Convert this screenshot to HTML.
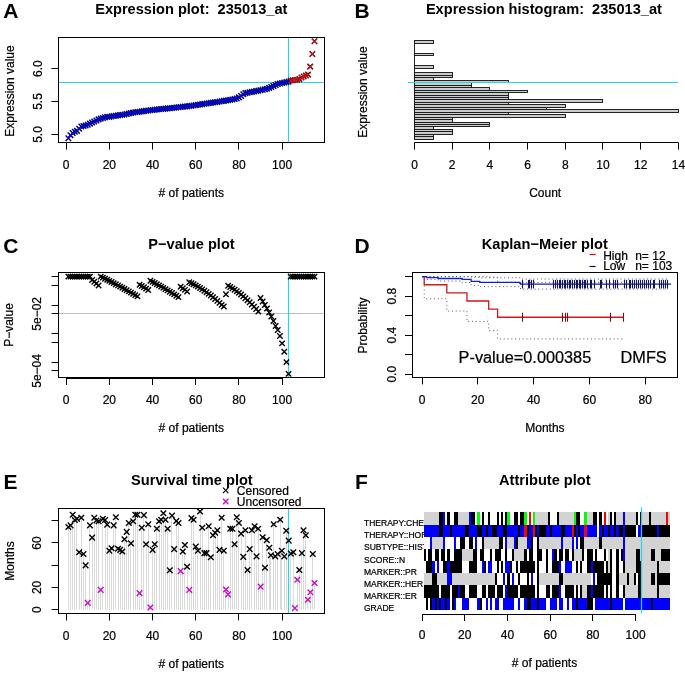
<!DOCTYPE html>
<html><head><meta charset="utf-8"><style>
html,body{margin:0;padding:0;background:#fff;}
svg{display:block;font-family:"Liberation Sans",sans-serif;will-change:transform;}
</style></head><body>
<svg width="685" height="674" viewBox="0 0 685 674">
<rect width="685" height="674" fill="#fff"/>
<text xml:space="preserve" x="3.3" y="18" font-size="21" text-anchor="start" font-weight="bold" fill="#000">A</text>
<text xml:space="preserve" x="191.3" y="13.84" font-size="14.6" text-anchor="middle" font-weight="bold" fill="#000">Expression plot:  235013_at</text>
<line x1="58.4" y1="82.5" x2="324.2" y2="82.5" stroke="#22d8ee" stroke-width="1.2" />
<line x1="288.5" y1="37.2" x2="288.5" y2="142.6" stroke="#22d8ee" stroke-width="1.2" />
<path d="M65.61 135.58L71.11 141.08M65.61 141.08L71.11 135.58" stroke="#10103a" stroke-width="1.5" fill="none"/>
<path d="M67.77 132.43L73.27 137.93M67.77 137.93L73.27 132.43" stroke="#10103a" stroke-width="1.5" fill="none"/>
<path d="M69.93 130.19L75.43 135.69M69.93 135.69L75.43 130.19" stroke="#10103a" stroke-width="1.5" fill="none"/>
<path d="M72.09 128.97L77.59 134.47M72.09 134.47L77.59 128.97" stroke="#10103a" stroke-width="1.5" fill="none"/>
<path d="M74.25 128.15L79.75 133.65M74.25 133.65L79.75 128.15" stroke="#10103a" stroke-width="1.5" fill="none"/>
<path d="M76.4 126L81.9 131.5M76.4 131.5L81.9 126" stroke="#10103a" stroke-width="1.5" fill="none"/>
<path d="M78.56 123.84L84.06 129.34M78.56 129.34L84.06 123.84" stroke="#10103a" stroke-width="1.5" fill="none"/>
<path d="M80.72 123.21L86.22 128.71M80.72 128.71L86.22 123.21" stroke="#10103a" stroke-width="1.5" fill="none"/>
<path d="M82.88 122.66L88.38 128.16M82.88 128.16L88.38 122.66" stroke="#10103a" stroke-width="1.5" fill="none"/>
<path d="M85.04 121.95L90.54 127.45M85.04 127.45L90.54 121.95" stroke="#10103a" stroke-width="1.5" fill="none"/>
<path d="M87.2 120.88L92.7 126.38M87.2 126.38L92.7 120.88" stroke="#10103a" stroke-width="1.5" fill="none"/>
<path d="M89.36 119.8L94.86 125.3M89.36 125.3L94.86 119.8" stroke="#10103a" stroke-width="1.5" fill="none"/>
<path d="M91.52 118.73L97.02 124.23M91.52 124.23L97.02 118.73" stroke="#10103a" stroke-width="1.5" fill="none"/>
<path d="M93.68 117.67L99.18 123.17M93.68 123.17L99.18 117.67" stroke="#10103a" stroke-width="1.5" fill="none"/>
<path d="M95.84 116.6L101.34 122.1M95.84 122.1L101.34 116.6" stroke="#10103a" stroke-width="1.5" fill="none"/>
<path d="M97.99 115.89L103.49 121.39M97.99 121.39L103.49 115.89" stroke="#10103a" stroke-width="1.5" fill="none"/>
<path d="M100.15 115.24L105.65 120.74M100.15 120.74L105.65 115.24" stroke="#10103a" stroke-width="1.5" fill="none"/>
<path d="M102.31 114.59L107.81 120.09M102.31 120.09L107.81 114.59" stroke="#10103a" stroke-width="1.5" fill="none"/>
<path d="M104.47 114.04L109.97 119.54M104.47 119.54L109.97 114.04" stroke="#10103a" stroke-width="1.5" fill="none"/>
<path d="M106.63 114.1L112.13 119.6M106.63 119.6L112.13 114.1" stroke="#10103a" stroke-width="1.5" fill="none"/>
<path d="M108.79 113.65L114.29 119.15M108.79 119.15L114.29 113.65" stroke="#10103a" stroke-width="1.5" fill="none"/>
<path d="M110.95 113.22L116.45 118.72M110.95 118.72L116.45 113.22" stroke="#10103a" stroke-width="1.5" fill="none"/>
<path d="M113.11 112.93L118.61 118.43M113.11 118.43L118.61 112.93" stroke="#10103a" stroke-width="1.5" fill="none"/>
<path d="M115.27 112.63L120.77 118.13M115.27 118.13L120.77 112.63" stroke="#10103a" stroke-width="1.5" fill="none"/>
<path d="M117.42 112.33L122.92 117.83M117.42 117.83L122.92 112.33" stroke="#10103a" stroke-width="1.5" fill="none"/>
<path d="M119.58 112.04L125.08 117.54M119.58 117.54L125.08 112.04" stroke="#10103a" stroke-width="1.5" fill="none"/>
<path d="M121.74 111.68L127.24 117.18M121.74 117.18L127.24 111.68" stroke="#10103a" stroke-width="1.5" fill="none"/>
<path d="M123.9 111.21L129.4 116.71M123.9 116.71L129.4 111.21" stroke="#10103a" stroke-width="1.5" fill="none"/>
<path d="M126.06 110.75L131.56 116.25M126.06 116.25L131.56 110.75" stroke="#10103a" stroke-width="1.5" fill="none"/>
<path d="M128.22 110.28L133.72 115.78M128.22 115.78L133.72 110.28" stroke="#10103a" stroke-width="1.5" fill="none"/>
<path d="M130.38 109.82L135.88 115.32M130.38 115.32L135.88 109.82" stroke="#10103a" stroke-width="1.5" fill="none"/>
<path d="M132.54 109.47L138.04 114.97M132.54 114.97L138.04 109.47" stroke="#10103a" stroke-width="1.5" fill="none"/>
<path d="M134.7 109.2L140.2 114.7M134.7 114.7L140.2 109.2" stroke="#10103a" stroke-width="1.5" fill="none"/>
<path d="M136.86 108.92L142.36 114.42M136.86 114.42L142.36 108.92" stroke="#10103a" stroke-width="1.5" fill="none"/>
<path d="M139.01 108.64L144.51 114.14M139.01 114.14L144.51 108.64" stroke="#10103a" stroke-width="1.5" fill="none"/>
<path d="M141.17 108.36L146.67 113.86M141.17 113.86L146.67 108.36" stroke="#10103a" stroke-width="1.5" fill="none"/>
<path d="M143.33 108.09L148.83 113.59M143.33 113.59L148.83 108.09" stroke="#10103a" stroke-width="1.5" fill="none"/>
<path d="M145.49 107.83L150.99 113.33M145.49 113.33L150.99 107.83" stroke="#10103a" stroke-width="1.5" fill="none"/>
<path d="M147.65 107.58L153.15 113.08M147.65 113.08L153.15 107.58" stroke="#10103a" stroke-width="1.5" fill="none"/>
<path d="M149.81 107.32L155.31 112.82M149.81 112.82L155.31 107.32" stroke="#10103a" stroke-width="1.5" fill="none"/>
<path d="M151.97 107.06L157.47 112.56M151.97 112.56L157.47 107.06" stroke="#10103a" stroke-width="1.5" fill="none"/>
<path d="M154.13 106.8L159.63 112.3M154.13 112.3L159.63 106.8" stroke="#10103a" stroke-width="1.5" fill="none"/>
<path d="M156.29 106.57L161.79 112.07M156.29 112.07L161.79 106.57" stroke="#10103a" stroke-width="1.5" fill="none"/>
<path d="M158.45 106.34L163.95 111.84M158.45 111.84L163.95 106.34" stroke="#10103a" stroke-width="1.5" fill="none"/>
<path d="M160.6 106.11L166.1 111.61M160.6 111.61L166.1 106.11" stroke="#10103a" stroke-width="1.5" fill="none"/>
<path d="M162.76 105.88L168.26 111.38M162.76 111.38L168.26 105.88" stroke="#10103a" stroke-width="1.5" fill="none"/>
<path d="M164.92 105.65L170.42 111.15M164.92 111.15L170.42 105.65" stroke="#10103a" stroke-width="1.5" fill="none"/>
<path d="M167.08 105.43L172.58 110.93M167.08 110.93L172.58 105.43" stroke="#10103a" stroke-width="1.5" fill="none"/>
<path d="M169.24 105.2L174.74 110.7M169.24 110.7L174.74 105.2" stroke="#10103a" stroke-width="1.5" fill="none"/>
<path d="M171.4 104.97L176.9 110.47M171.4 110.47L176.9 104.97" stroke="#10103a" stroke-width="1.5" fill="none"/>
<path d="M173.56 104.74L179.06 110.24M173.56 110.24L179.06 104.74" stroke="#10103a" stroke-width="1.5" fill="none"/>
<path d="M175.72 104.51L181.22 110.01M175.72 110.01L181.22 104.51" stroke="#10103a" stroke-width="1.5" fill="none"/>
<path d="M177.88 104.29L183.38 109.79M177.88 109.79L183.38 104.29" stroke="#10103a" stroke-width="1.5" fill="none"/>
<path d="M180.04 104.06L185.54 109.56M180.04 109.56L185.54 104.06" stroke="#10103a" stroke-width="1.5" fill="none"/>
<path d="M182.19 103.83L187.69 109.33M182.19 109.33L187.69 103.83" stroke="#10103a" stroke-width="1.5" fill="none"/>
<path d="M184.35 103.6L189.85 109.1M184.35 109.1L189.85 103.6" stroke="#10103a" stroke-width="1.5" fill="none"/>
<path d="M186.51 103.31L192.01 108.81M186.51 108.81L192.01 103.31" stroke="#10103a" stroke-width="1.5" fill="none"/>
<path d="M188.67 102.99L194.17 108.49M188.67 108.49L194.17 102.99" stroke="#10103a" stroke-width="1.5" fill="none"/>
<path d="M190.83 102.67L196.33 108.17M190.83 108.17L196.33 102.67" stroke="#10103a" stroke-width="1.5" fill="none"/>
<path d="M192.99 102.35L198.49 107.85M192.99 107.85L198.49 102.35" stroke="#10103a" stroke-width="1.5" fill="none"/>
<path d="M195.15 102.03L200.65 107.53M195.15 107.53L200.65 102.03" stroke="#10103a" stroke-width="1.5" fill="none"/>
<path d="M197.31 101.72L202.81 107.22M197.31 107.22L202.81 101.72" stroke="#10103a" stroke-width="1.5" fill="none"/>
<path d="M199.47 101.4L204.97 106.9M199.47 106.9L204.97 101.4" stroke="#10103a" stroke-width="1.5" fill="none"/>
<path d="M201.63 101.08L207.13 106.58M201.63 106.58L207.13 101.08" stroke="#10103a" stroke-width="1.5" fill="none"/>
<path d="M203.78 100.76L209.28 106.26M203.78 106.26L209.28 100.76" stroke="#10103a" stroke-width="1.5" fill="none"/>
<path d="M205.94 100.44L211.44 105.94M205.94 105.94L211.44 100.44" stroke="#10103a" stroke-width="1.5" fill="none"/>
<path d="M208.1 100.13L213.6 105.63M208.1 105.63L213.6 100.13" stroke="#10103a" stroke-width="1.5" fill="none"/>
<path d="M210.26 99.81L215.76 105.31M210.26 105.31L215.76 99.81" stroke="#10103a" stroke-width="1.5" fill="none"/>
<path d="M212.42 99.49L217.92 104.99M212.42 104.99L217.92 99.49" stroke="#10103a" stroke-width="1.5" fill="none"/>
<path d="M214.58 99.17L220.08 104.67M214.58 104.67L220.08 99.17" stroke="#10103a" stroke-width="1.5" fill="none"/>
<path d="M216.74 98.82L222.24 104.32M216.74 104.32L222.24 98.82" stroke="#10103a" stroke-width="1.5" fill="none"/>
<path d="M218.9 98.48L224.4 103.98M218.9 103.98L224.4 98.48" stroke="#10103a" stroke-width="1.5" fill="none"/>
<path d="M221.06 98.14L226.56 103.64M221.06 103.64L226.56 98.14" stroke="#10103a" stroke-width="1.5" fill="none"/>
<path d="M223.22 97.79L228.72 103.29M223.22 103.29L228.72 97.79" stroke="#10103a" stroke-width="1.5" fill="none"/>
<path d="M225.38 97.45L230.88 102.95M225.38 102.95L230.88 97.45" stroke="#10103a" stroke-width="1.5" fill="none"/>
<path d="M227.53 97.09L233.03 102.59M227.53 102.59L233.03 97.09" stroke="#10103a" stroke-width="1.5" fill="none"/>
<path d="M229.69 96.67L235.19 102.17M229.69 102.17L235.19 96.67" stroke="#10103a" stroke-width="1.5" fill="none"/>
<path d="M231.85 96.26L237.35 101.76M231.85 101.76L237.35 96.26" stroke="#10103a" stroke-width="1.5" fill="none"/>
<path d="M234.01 95.84L239.51 101.34M234.01 101.34L239.51 95.84" stroke="#10103a" stroke-width="1.5" fill="none"/>
<path d="M236.17 94.6L241.67 100.1M236.17 100.1L241.67 94.6" stroke="#10103a" stroke-width="1.5" fill="none"/>
<path d="M238.33 93.16L243.83 98.66M238.33 98.66L243.83 93.16" stroke="#10103a" stroke-width="1.5" fill="none"/>
<path d="M240.49 91.58L245.99 97.08M240.49 97.08L245.99 91.58" stroke="#10103a" stroke-width="1.5" fill="none"/>
<path d="M242.65 90.39L248.15 95.89M242.65 95.89L248.15 90.39" stroke="#10103a" stroke-width="1.5" fill="none"/>
<path d="M244.81 89.97L250.31 95.47M244.81 95.47L250.31 89.97" stroke="#10103a" stroke-width="1.5" fill="none"/>
<path d="M246.96 89.55L252.46 95.05M246.96 95.05L252.46 89.55" stroke="#10103a" stroke-width="1.5" fill="none"/>
<path d="M249.12 89.12L254.62 94.62M249.12 94.62L254.62 89.12" stroke="#10103a" stroke-width="1.5" fill="none"/>
<path d="M251.28 88.7L256.78 94.2M251.28 94.2L256.78 88.7" stroke="#10103a" stroke-width="1.5" fill="none"/>
<path d="M253.44 88.27L258.94 93.77M253.44 93.77L258.94 88.27" stroke="#10103a" stroke-width="1.5" fill="none"/>
<path d="M255.6 87.85L261.1 93.35M255.6 93.35L261.1 87.85" stroke="#10103a" stroke-width="1.5" fill="none"/>
<path d="M257.76 87.43L263.26 92.93M257.76 92.93L263.26 87.43" stroke="#10103a" stroke-width="1.5" fill="none"/>
<path d="M259.92 87L265.42 92.5M259.92 92.5L265.42 87" stroke="#10103a" stroke-width="1.5" fill="none"/>
<path d="M262.08 86.58L267.58 92.08M262.08 92.08L267.58 86.58" stroke="#10103a" stroke-width="1.5" fill="none"/>
<path d="M264.24 86.04L269.74 91.54M264.24 91.54L269.74 86.04" stroke="#10103a" stroke-width="1.5" fill="none"/>
<path d="M266.4 85.1L271.9 90.6M266.4 90.6L271.9 85.1" stroke="#10103a" stroke-width="1.5" fill="none"/>
<path d="M268.56 84.16L274.06 89.66M268.56 89.66L274.06 84.16" stroke="#10103a" stroke-width="1.5" fill="none"/>
<path d="M270.71 83.21L276.21 88.71M270.71 88.71L276.21 83.21" stroke="#10103a" stroke-width="1.5" fill="none"/>
<path d="M272.87 82.27L278.37 87.77M272.87 87.77L278.37 82.27" stroke="#10103a" stroke-width="1.5" fill="none"/>
<path d="M275.03 81.33L280.53 86.83M275.03 86.83L280.53 81.33" stroke="#10103a" stroke-width="1.5" fill="none"/>
<path d="M277.19 80.77L282.69 86.27M277.19 86.27L282.69 80.77" stroke="#10103a" stroke-width="1.5" fill="none"/>
<path d="M279.35 80.31L284.85 85.81M279.35 85.81L284.85 80.31" stroke="#10103a" stroke-width="1.5" fill="none"/>
<path d="M281.51 79.84L287.01 85.34M281.51 85.34L287.01 79.84" stroke="#10103a" stroke-width="1.5" fill="none"/>
<path d="M283.67 79.38L289.17 84.88M283.67 84.88L289.17 79.38" stroke="#10103a" stroke-width="1.5" fill="none"/>
<path d="M285.83 78.9L291.33 84.4M285.83 84.4L291.33 78.9" stroke="#10103a" stroke-width="1.5" fill="none"/>
<path d="M287.99 77.81L293.49 83.31M287.99 83.31L293.49 77.81" stroke="#4a1010" stroke-width="1.5" fill="none"/>
<path d="M290.14 77.5L295.64 83M290.14 83L295.64 77.5" stroke="#4a1010" stroke-width="1.5" fill="none"/>
<path d="M292.3 77.29L297.8 82.79M292.3 82.79L297.8 77.29" stroke="#4a1010" stroke-width="1.5" fill="none"/>
<path d="M294.46 77.08L299.96 82.58M294.46 82.58L299.96 77.08" stroke="#4a1010" stroke-width="1.5" fill="none"/>
<path d="M296.62 76.36L302.12 81.86M296.62 81.86L302.12 76.36" stroke="#4a1010" stroke-width="1.5" fill="none"/>
<path d="M298.78 74.74L304.28 80.24M298.78 80.24L304.28 74.74" stroke="#4a1010" stroke-width="1.5" fill="none"/>
<path d="M300.94 73.78L306.44 79.28M300.94 79.28L306.44 73.78" stroke="#4a1010" stroke-width="1.5" fill="none"/>
<path d="M303.1 72.83L308.6 78.33M303.1 78.33L308.6 72.83" stroke="#4a1010" stroke-width="1.5" fill="none"/>
<path d="M305.26 71.88L310.76 77.38M305.26 77.38L310.76 71.88" stroke="#4a1010" stroke-width="1.5" fill="none"/>
<path d="M307.42 63.85L312.92 69.35M307.42 69.35L312.92 63.85" stroke="#4a1010" stroke-width="1.5" fill="none"/>
<path d="M309.58 51.25L315.08 56.75M309.58 56.75L315.08 51.25" stroke="#4a1010" stroke-width="1.5" fill="none"/>
<path d="M311.73 38.55L317.23 44.05M311.73 44.05L317.23 38.55" stroke="#4a1010" stroke-width="1.5" fill="none"/>
<path d="M66.06 136.03L70.66 140.63M66.06 140.63L70.66 136.03" stroke="#0000f0" stroke-width="1.0" fill="none"/>
<path d="M68.22 132.88L72.82 137.48M68.22 137.48L72.82 132.88" stroke="#0000f0" stroke-width="1.0" fill="none"/>
<path d="M70.38 130.64L74.98 135.24M70.38 135.24L74.98 130.64" stroke="#0000f0" stroke-width="1.0" fill="none"/>
<path d="M72.54 129.42L77.14 134.02M72.54 134.02L77.14 129.42" stroke="#0000f0" stroke-width="1.0" fill="none"/>
<path d="M74.7 128.6L79.3 133.2M74.7 133.2L79.3 128.6" stroke="#0000f0" stroke-width="1.0" fill="none"/>
<path d="M76.85 126.45L81.45 131.05M76.85 131.05L81.45 126.45" stroke="#0000f0" stroke-width="1.0" fill="none"/>
<path d="M79.01 124.29L83.61 128.89M79.01 128.89L83.61 124.29" stroke="#0000f0" stroke-width="1.0" fill="none"/>
<path d="M81.17 123.66L85.77 128.26M81.17 128.26L85.77 123.66" stroke="#0000f0" stroke-width="1.0" fill="none"/>
<path d="M83.33 123.11L87.93 127.71M83.33 127.71L87.93 123.11" stroke="#0000f0" stroke-width="1.0" fill="none"/>
<path d="M85.49 122.41L90.09 127M85.49 127L90.09 122.41" stroke="#0000f0" stroke-width="1.0" fill="none"/>
<path d="M87.65 121.33L92.25 125.93M87.65 125.93L92.25 121.33" stroke="#0000f0" stroke-width="1.0" fill="none"/>
<path d="M89.81 120.25L94.41 124.85M89.81 124.85L94.41 120.25" stroke="#0000f0" stroke-width="1.0" fill="none"/>
<path d="M91.97 119.18L96.57 123.78M91.97 123.78L96.57 119.18" stroke="#0000f0" stroke-width="1.0" fill="none"/>
<path d="M94.13 118.12L98.73 122.72M94.13 122.72L98.73 118.12" stroke="#0000f0" stroke-width="1.0" fill="none"/>
<path d="M96.29 117.05L100.89 121.65M96.29 121.65L100.89 117.05" stroke="#0000f0" stroke-width="1.0" fill="none"/>
<path d="M98.44 116.34L103.04 120.94M98.44 120.94L103.04 116.34" stroke="#0000f0" stroke-width="1.0" fill="none"/>
<path d="M100.6 115.69L105.2 120.29M100.6 120.29L105.2 115.69" stroke="#0000f0" stroke-width="1.0" fill="none"/>
<path d="M102.76 115.04L107.36 119.64M102.76 119.64L107.36 115.04" stroke="#0000f0" stroke-width="1.0" fill="none"/>
<path d="M104.92 114.49L109.52 119.09M104.92 119.09L109.52 114.49" stroke="#0000f0" stroke-width="1.0" fill="none"/>
<path d="M107.08 114.55L111.68 119.15M107.08 119.15L111.68 114.55" stroke="#0000f0" stroke-width="1.0" fill="none"/>
<path d="M109.24 114.1L113.84 118.7M109.24 118.7L113.84 114.1" stroke="#0000f0" stroke-width="1.0" fill="none"/>
<path d="M111.4 113.67L116 118.27M111.4 118.27L116 113.67" stroke="#0000f0" stroke-width="1.0" fill="none"/>
<path d="M113.56 113.38L118.16 117.98M113.56 117.98L118.16 113.38" stroke="#0000f0" stroke-width="1.0" fill="none"/>
<path d="M115.72 113.08L120.32 117.68M115.72 117.68L120.32 113.08" stroke="#0000f0" stroke-width="1.0" fill="none"/>
<path d="M117.88 112.78L122.47 117.38M117.88 117.38L122.47 112.78" stroke="#0000f0" stroke-width="1.0" fill="none"/>
<path d="M120.03 112.49L124.63 117.09M120.03 117.09L124.63 112.49" stroke="#0000f0" stroke-width="1.0" fill="none"/>
<path d="M122.19 112.13L126.79 116.73M122.19 116.73L126.79 112.13" stroke="#0000f0" stroke-width="1.0" fill="none"/>
<path d="M124.35 111.66L128.95 116.26M124.35 116.26L128.95 111.66" stroke="#0000f0" stroke-width="1.0" fill="none"/>
<path d="M126.51 111.2L131.11 115.8M126.51 115.8L131.11 111.2" stroke="#0000f0" stroke-width="1.0" fill="none"/>
<path d="M128.67 110.73L133.27 115.33M128.67 115.33L133.27 110.73" stroke="#0000f0" stroke-width="1.0" fill="none"/>
<path d="M130.83 110.27L135.43 114.87M130.83 114.87L135.43 110.27" stroke="#0000f0" stroke-width="1.0" fill="none"/>
<path d="M132.99 109.92L137.59 114.52M132.99 114.52L137.59 109.92" stroke="#0000f0" stroke-width="1.0" fill="none"/>
<path d="M135.15 109.65L139.75 114.25M135.15 114.25L139.75 109.65" stroke="#0000f0" stroke-width="1.0" fill="none"/>
<path d="M137.31 109.37L141.91 113.97M137.31 113.97L141.91 109.37" stroke="#0000f0" stroke-width="1.0" fill="none"/>
<path d="M139.46 109.09L144.06 113.69M139.46 113.69L144.06 109.09" stroke="#0000f0" stroke-width="1.0" fill="none"/>
<path d="M141.62 108.81L146.22 113.41M141.62 113.41L146.22 108.81" stroke="#0000f0" stroke-width="1.0" fill="none"/>
<path d="M143.78 108.54L148.38 113.14M143.78 113.14L148.38 108.54" stroke="#0000f0" stroke-width="1.0" fill="none"/>
<path d="M145.94 108.28L150.54 112.88M145.94 112.88L150.54 108.28" stroke="#0000f0" stroke-width="1.0" fill="none"/>
<path d="M148.1 108.03L152.7 112.63M148.1 112.63L152.7 108.03" stroke="#0000f0" stroke-width="1.0" fill="none"/>
<path d="M150.26 107.77L154.86 112.37M150.26 112.37L154.86 107.77" stroke="#0000f0" stroke-width="1.0" fill="none"/>
<path d="M152.42 107.51L157.02 112.11M152.42 112.11L157.02 107.51" stroke="#0000f0" stroke-width="1.0" fill="none"/>
<path d="M154.58 107.25L159.18 111.85M154.58 111.85L159.18 107.25" stroke="#0000f0" stroke-width="1.0" fill="none"/>
<path d="M156.74 107.02L161.34 111.62M156.74 111.62L161.34 107.02" stroke="#0000f0" stroke-width="1.0" fill="none"/>
<path d="M158.9 106.79L163.5 111.39M158.9 111.39L163.5 106.79" stroke="#0000f0" stroke-width="1.0" fill="none"/>
<path d="M161.05 106.56L165.66 111.16M161.05 111.16L165.66 106.56" stroke="#0000f0" stroke-width="1.0" fill="none"/>
<path d="M163.21 106.33L167.81 110.93M163.21 110.93L167.81 106.33" stroke="#0000f0" stroke-width="1.0" fill="none"/>
<path d="M165.37 106.1L169.97 110.7M165.37 110.7L169.97 106.1" stroke="#0000f0" stroke-width="1.0" fill="none"/>
<path d="M167.53 105.88L172.13 110.48M167.53 110.48L172.13 105.88" stroke="#0000f0" stroke-width="1.0" fill="none"/>
<path d="M169.69 105.65L174.29 110.25M169.69 110.25L174.29 105.65" stroke="#0000f0" stroke-width="1.0" fill="none"/>
<path d="M171.85 105.42L176.45 110.02M171.85 110.02L176.45 105.42" stroke="#0000f0" stroke-width="1.0" fill="none"/>
<path d="M174.01 105.19L178.61 109.79M174.01 109.79L178.61 105.19" stroke="#0000f0" stroke-width="1.0" fill="none"/>
<path d="M176.17 104.96L180.77 109.56M176.17 109.56L180.77 104.96" stroke="#0000f0" stroke-width="1.0" fill="none"/>
<path d="M178.33 104.74L182.93 109.34M178.33 109.34L182.93 104.74" stroke="#0000f0" stroke-width="1.0" fill="none"/>
<path d="M180.49 104.51L185.09 109.11M180.49 109.11L185.09 104.51" stroke="#0000f0" stroke-width="1.0" fill="none"/>
<path d="M182.64 104.28L187.25 108.88M182.64 108.88L187.25 104.28" stroke="#0000f0" stroke-width="1.0" fill="none"/>
<path d="M184.8 104.05L189.4 108.65M184.8 108.65L189.4 104.05" stroke="#0000f0" stroke-width="1.0" fill="none"/>
<path d="M186.96 103.76L191.56 108.36M186.96 108.36L191.56 103.76" stroke="#0000f0" stroke-width="1.0" fill="none"/>
<path d="M189.12 103.44L193.72 108.04M189.12 108.04L193.72 103.44" stroke="#0000f0" stroke-width="1.0" fill="none"/>
<path d="M191.28 103.12L195.88 107.72M191.28 107.72L195.88 103.12" stroke="#0000f0" stroke-width="1.0" fill="none"/>
<path d="M193.44 102.8L198.04 107.4M193.44 107.4L198.04 102.8" stroke="#0000f0" stroke-width="1.0" fill="none"/>
<path d="M195.6 102.48L200.2 107.08M195.6 107.08L200.2 102.48" stroke="#0000f0" stroke-width="1.0" fill="none"/>
<path d="M197.76 102.17L202.36 106.77M197.76 106.77L202.36 102.17" stroke="#0000f0" stroke-width="1.0" fill="none"/>
<path d="M199.92 101.85L204.52 106.45M199.92 106.45L204.52 101.85" stroke="#0000f0" stroke-width="1.0" fill="none"/>
<path d="M202.08 101.53L206.68 106.13M202.08 106.13L206.68 101.53" stroke="#0000f0" stroke-width="1.0" fill="none"/>
<path d="M204.23 101.21L208.83 105.81M204.23 105.81L208.83 101.21" stroke="#0000f0" stroke-width="1.0" fill="none"/>
<path d="M206.39 100.89L210.99 105.49M206.39 105.49L210.99 100.89" stroke="#0000f0" stroke-width="1.0" fill="none"/>
<path d="M208.55 100.58L213.15 105.18M208.55 105.18L213.15 100.58" stroke="#0000f0" stroke-width="1.0" fill="none"/>
<path d="M210.71 100.26L215.31 104.86M210.71 104.86L215.31 100.26" stroke="#0000f0" stroke-width="1.0" fill="none"/>
<path d="M212.87 99.94L217.47 104.54M212.87 104.54L217.47 99.94" stroke="#0000f0" stroke-width="1.0" fill="none"/>
<path d="M215.03 99.62L219.63 104.22M215.03 104.22L219.63 99.62" stroke="#0000f0" stroke-width="1.0" fill="none"/>
<path d="M217.19 99.27L221.79 103.87M217.19 103.87L221.79 99.27" stroke="#0000f0" stroke-width="1.0" fill="none"/>
<path d="M219.35 98.93L223.95 103.53M219.35 103.53L223.95 98.93" stroke="#0000f0" stroke-width="1.0" fill="none"/>
<path d="M221.51 98.59L226.11 103.19M221.51 103.19L226.11 98.59" stroke="#0000f0" stroke-width="1.0" fill="none"/>
<path d="M223.67 98.24L228.27 102.84M223.67 102.84L228.27 98.24" stroke="#0000f0" stroke-width="1.0" fill="none"/>
<path d="M225.82 97.9L230.43 102.5M225.82 102.5L230.43 97.9" stroke="#0000f0" stroke-width="1.0" fill="none"/>
<path d="M227.98 97.54L232.58 102.14M227.98 102.14L232.58 97.54" stroke="#0000f0" stroke-width="1.0" fill="none"/>
<path d="M230.14 97.12L234.74 101.72M230.14 101.72L234.74 97.12" stroke="#0000f0" stroke-width="1.0" fill="none"/>
<path d="M232.3 96.71L236.9 101.31M232.3 101.31L236.9 96.71" stroke="#0000f0" stroke-width="1.0" fill="none"/>
<path d="M234.46 96.29L239.06 100.89M234.46 100.89L239.06 96.29" stroke="#0000f0" stroke-width="1.0" fill="none"/>
<path d="M236.62 95.05L241.22 99.65M236.62 99.65L241.22 95.05" stroke="#0000f0" stroke-width="1.0" fill="none"/>
<path d="M238.78 93.61L243.38 98.21M238.78 98.21L243.38 93.61" stroke="#0000f0" stroke-width="1.0" fill="none"/>
<path d="M240.94 92.03L245.54 96.63M240.94 96.63L245.54 92.03" stroke="#0000f0" stroke-width="1.0" fill="none"/>
<path d="M243.1 90.84L247.7 95.44M243.1 95.44L247.7 90.84" stroke="#0000f0" stroke-width="1.0" fill="none"/>
<path d="M245.26 90.42L249.86 95.02M245.26 95.02L249.86 90.42" stroke="#0000f0" stroke-width="1.0" fill="none"/>
<path d="M247.41 90L252.01 94.6M247.41 94.6L252.01 90" stroke="#0000f0" stroke-width="1.0" fill="none"/>
<path d="M249.57 89.57L254.17 94.17M249.57 94.17L254.17 89.57" stroke="#0000f0" stroke-width="1.0" fill="none"/>
<path d="M251.73 89.15L256.33 93.75M251.73 93.75L256.33 89.15" stroke="#0000f0" stroke-width="1.0" fill="none"/>
<path d="M253.89 88.72L258.49 93.32M253.89 93.32L258.49 88.72" stroke="#0000f0" stroke-width="1.0" fill="none"/>
<path d="M256.05 88.3L260.65 92.9M256.05 92.9L260.65 88.3" stroke="#0000f0" stroke-width="1.0" fill="none"/>
<path d="M258.21 87.88L262.81 92.48M258.21 92.48L262.81 87.88" stroke="#0000f0" stroke-width="1.0" fill="none"/>
<path d="M260.37 87.45L264.97 92.05M260.37 92.05L264.97 87.45" stroke="#0000f0" stroke-width="1.0" fill="none"/>
<path d="M262.53 87.03L267.13 91.63M262.53 91.63L267.13 87.03" stroke="#0000f0" stroke-width="1.0" fill="none"/>
<path d="M264.69 86.49L269.29 91.09M264.69 91.09L269.29 86.49" stroke="#0000f0" stroke-width="1.0" fill="none"/>
<path d="M266.85 85.55L271.45 90.15M266.85 90.15L271.45 85.55" stroke="#0000f0" stroke-width="1.0" fill="none"/>
<path d="M269 84.61L273.61 89.21M269 89.21L273.61 84.61" stroke="#0000f0" stroke-width="1.0" fill="none"/>
<path d="M271.16 83.66L275.76 88.26M271.16 88.26L275.76 83.66" stroke="#0000f0" stroke-width="1.0" fill="none"/>
<path d="M273.32 82.72L277.92 87.32M273.32 87.32L277.92 82.72" stroke="#0000f0" stroke-width="1.0" fill="none"/>
<path d="M275.48 81.78L280.08 86.38M275.48 86.38L280.08 81.78" stroke="#0000f0" stroke-width="1.0" fill="none"/>
<path d="M277.64 81.22L282.24 85.82M277.64 85.82L282.24 81.22" stroke="#0000f0" stroke-width="1.0" fill="none"/>
<path d="M279.8 80.76L284.4 85.36M279.8 85.36L284.4 80.76" stroke="#0000f0" stroke-width="1.0" fill="none"/>
<path d="M281.96 80.29L286.56 84.89M281.96 84.89L286.56 80.29" stroke="#0000f0" stroke-width="1.0" fill="none"/>
<path d="M284.12 79.83L288.72 84.43M284.12 84.43L288.72 79.83" stroke="#0000f0" stroke-width="1.0" fill="none"/>
<path d="M286.28 79.35L290.88 83.95M286.28 83.95L290.88 79.35" stroke="#0000f0" stroke-width="1.0" fill="none"/>
<path d="M288.44 78.26L293.04 82.86M288.44 82.86L293.04 78.26" stroke="#e81010" stroke-width="1.0" fill="none"/>
<path d="M290.59 77.95L295.19 82.55M290.59 82.55L295.19 77.95" stroke="#e81010" stroke-width="1.0" fill="none"/>
<path d="M292.75 77.74L297.35 82.34M292.75 82.34L297.35 77.74" stroke="#e81010" stroke-width="1.0" fill="none"/>
<path d="M294.91 77.53L299.51 82.13M294.91 82.13L299.51 77.53" stroke="#e81010" stroke-width="1.0" fill="none"/>
<path d="M297.07 76.81L301.67 81.41M297.07 81.41L301.67 76.81" stroke="#e81010" stroke-width="1.0" fill="none"/>
<path d="M299.23 75.19L303.83 79.79M299.23 79.79L303.83 75.19" stroke="#e81010" stroke-width="1.0" fill="none"/>
<path d="M301.39 74.23L305.99 78.83M301.39 78.83L305.99 74.23" stroke="#e81010" stroke-width="1.0" fill="none"/>
<path d="M303.55 73.28L308.15 77.88M303.55 77.88L308.15 73.28" stroke="#e81010" stroke-width="1.0" fill="none"/>
<path d="M305.71 72.33L310.31 76.93M305.71 76.93L310.31 72.33" stroke="#e81010" stroke-width="1.0" fill="none"/>
<path d="M307.87 64.3L312.47 68.9M307.87 68.9L312.47 64.3" stroke="#e81010" stroke-width="1.0" fill="none"/>
<path d="M310.03 51.7L314.63 56.3M310.03 56.3L314.63 51.7" stroke="#e81010" stroke-width="1.0" fill="none"/>
<path d="M312.18 39L316.78 43.6M312.18 43.6L316.78 39" stroke="#e81010" stroke-width="1.0" fill="none"/>
<rect x="58.5" y="37.5" width="266" height="105" fill="none" stroke="#000" stroke-width="1"/>
<line x1="51.4" y1="134.5" x2="58.4" y2="134.5" stroke="#000" stroke-width="1" />
<text xml:space="preserve" x="42.2" y="134.5" font-size="12" text-anchor="middle" font-weight="normal" fill="#000" stroke="#000" stroke-width="0.22" transform="rotate(-90 42.2 134.5)">5.0</text>
<line x1="51.4" y1="101.5" x2="58.4" y2="101.5" stroke="#000" stroke-width="1" />
<text xml:space="preserve" x="42.2" y="101.5" font-size="12" text-anchor="middle" font-weight="normal" fill="#000" stroke="#000" stroke-width="0.22" transform="rotate(-90 42.2 101.5)">5.5</text>
<line x1="51.4" y1="68.5" x2="58.4" y2="68.5" stroke="#000" stroke-width="1" />
<text xml:space="preserve" x="42.2" y="68.6" font-size="12" text-anchor="middle" font-weight="normal" fill="#000" stroke="#000" stroke-width="0.22" transform="rotate(-90 42.2 68.6)">6.0</text>
<text xml:space="preserve" x="13.5" y="91" font-size="12" text-anchor="middle" font-weight="normal" fill="#000" stroke="#000" stroke-width="0.22" transform="rotate(-90 13.5 91)">Expression value</text>
<line x1="66.2" y1="142.5" x2="282.1" y2="142.5" stroke="#000" stroke-width="1" />
<line x1="66.5" y1="142.6" x2="66.5" y2="149.6" stroke="#000" stroke-width="1" />
<text xml:space="preserve" x="66.2" y="169" font-size="12" text-anchor="middle" font-weight="normal" fill="#000" stroke="#000" stroke-width="0.22">0</text>
<line x1="109.5" y1="142.6" x2="109.5" y2="149.6" stroke="#000" stroke-width="1" />
<text xml:space="preserve" x="109.38" y="169" font-size="12" text-anchor="middle" font-weight="normal" fill="#000" stroke="#000" stroke-width="0.22">20</text>
<line x1="152.5" y1="142.6" x2="152.5" y2="149.6" stroke="#000" stroke-width="1" />
<text xml:space="preserve" x="152.56" y="169" font-size="12" text-anchor="middle" font-weight="normal" fill="#000" stroke="#000" stroke-width="0.22">40</text>
<line x1="195.5" y1="142.6" x2="195.5" y2="149.6" stroke="#000" stroke-width="1" />
<text xml:space="preserve" x="195.74" y="169" font-size="12" text-anchor="middle" font-weight="normal" fill="#000" stroke="#000" stroke-width="0.22">60</text>
<line x1="238.5" y1="142.6" x2="238.5" y2="149.6" stroke="#000" stroke-width="1" />
<text xml:space="preserve" x="238.92" y="169" font-size="12" text-anchor="middle" font-weight="normal" fill="#000" stroke="#000" stroke-width="0.22">80</text>
<line x1="282.5" y1="142.6" x2="282.5" y2="149.6" stroke="#000" stroke-width="1" />
<text xml:space="preserve" x="282.1" y="169" font-size="12" text-anchor="middle" font-weight="normal" fill="#000" stroke="#000" stroke-width="0.22">100</text>
<text xml:space="preserve" x="191.3" y="196.8" font-size="12" text-anchor="middle" font-weight="normal" fill="#000" stroke="#000" stroke-width="0.22"># of patients</text>
<text xml:space="preserve" x="354.6" y="18" font-size="21" text-anchor="start" font-weight="bold" fill="#000">B</text>
<text xml:space="preserve" x="543.9" y="13.84" font-size="14.6" text-anchor="middle" font-weight="bold" fill="#000">Expression histogram:  235013_at</text>
<rect x="414.5" y="40.5" width="19" height="3" fill="#cbcbcb" stroke="#1a1a1a" stroke-width="0.95"/>
<rect x="414.5" y="53.5" width="19" height="2" fill="#cbcbcb" stroke="#1a1a1a" stroke-width="0.95"/>
<rect x="414.5" y="65.5" width="19" height="3" fill="#cbcbcb" stroke="#1a1a1a" stroke-width="0.95"/>
<rect x="414.5" y="72.5" width="38" height="3" fill="#cbcbcb" stroke="#1a1a1a" stroke-width="0.95"/>
<rect x="414.5" y="75.5" width="38" height="2" fill="#cbcbcb" stroke="#1a1a1a" stroke-width="0.95"/>
<rect x="414.5" y="77.5" width="19" height="3" fill="#cbcbcb" stroke="#1a1a1a" stroke-width="0.95"/>
<rect x="414.5" y="80.5" width="94" height="2" fill="#cbcbcb" stroke="#1a1a1a" stroke-width="0.95"/>
<rect x="414.5" y="82.5" width="57" height="3" fill="#cbcbcb" stroke="#1a1a1a" stroke-width="0.95"/>
<rect x="414.5" y="85.5" width="57" height="2" fill="#cbcbcb" stroke="#1a1a1a" stroke-width="0.95"/>
<rect x="414.5" y="87.5" width="75" height="3" fill="#cbcbcb" stroke="#1a1a1a" stroke-width="0.95"/>
<rect x="414.5" y="90.5" width="113" height="2" fill="#cbcbcb" stroke="#1a1a1a" stroke-width="0.95"/>
<rect x="414.5" y="92.5" width="94" height="3" fill="#cbcbcb" stroke="#1a1a1a" stroke-width="0.95"/>
<rect x="414.5" y="95.5" width="94" height="2" fill="#cbcbcb" stroke="#1a1a1a" stroke-width="0.95"/>
<rect x="414.5" y="97.5" width="94" height="2" fill="#cbcbcb" stroke="#1a1a1a" stroke-width="0.95"/>
<rect x="414.5" y="99.5" width="188" height="3" fill="#cbcbcb" stroke="#1a1a1a" stroke-width="0.95"/>
<rect x="414.5" y="102.5" width="94" height="2" fill="#cbcbcb" stroke="#1a1a1a" stroke-width="0.95"/>
<rect x="414.5" y="104.5" width="151" height="3" fill="#cbcbcb" stroke="#1a1a1a" stroke-width="0.95"/>
<rect x="414.5" y="107.5" width="132" height="2" fill="#cbcbcb" stroke="#1a1a1a" stroke-width="0.95"/>
<rect x="414.5" y="109.5" width="264" height="3" fill="#cbcbcb" stroke="#1a1a1a" stroke-width="0.95"/>
<rect x="414.5" y="112.5" width="94" height="2" fill="#cbcbcb" stroke="#1a1a1a" stroke-width="0.95"/>
<rect x="414.5" y="114.5" width="151" height="3" fill="#cbcbcb" stroke="#1a1a1a" stroke-width="0.95"/>
<rect x="414.5" y="117.5" width="38" height="2" fill="#cbcbcb" stroke="#1a1a1a" stroke-width="0.95"/>
<rect x="414.5" y="119.5" width="38" height="3" fill="#cbcbcb" stroke="#1a1a1a" stroke-width="0.95"/>
<rect x="414.5" y="122.5" width="75" height="2" fill="#cbcbcb" stroke="#1a1a1a" stroke-width="0.95"/>
<rect x="414.5" y="124.5" width="75" height="2" fill="#cbcbcb" stroke="#1a1a1a" stroke-width="0.95"/>
<rect x="414.5" y="126.5" width="19" height="3" fill="#cbcbcb" stroke="#1a1a1a" stroke-width="0.95"/>
<rect x="414.5" y="129.5" width="38" height="2" fill="#cbcbcb" stroke="#1a1a1a" stroke-width="0.95"/>
<rect x="414.5" y="131.5" width="38" height="3" fill="#cbcbcb" stroke="#1a1a1a" stroke-width="0.95"/>
<rect x="414.5" y="134.5" width="19" height="2" fill="#cbcbcb" stroke="#1a1a1a" stroke-width="0.95"/>
<rect x="414.5" y="136.5" width="19" height="3" fill="#cbcbcb" stroke="#1a1a1a" stroke-width="0.95"/>
<line x1="414.5" y1="41" x2="414.5" y2="139.2" stroke="#1a1a1a" stroke-width="0.95" />
<line x1="408" y1="82.5" x2="678" y2="82.5" stroke="#22d8ee" stroke-width="1.2" />
<line x1="414.5" y1="142.5" x2="678.4" y2="142.5" stroke="#000" stroke-width="1" />
<line x1="414.5" y1="142.6" x2="414.5" y2="149.6" stroke="#000" stroke-width="1" />
<text xml:space="preserve" x="414.5" y="169" font-size="12" text-anchor="middle" font-weight="normal" fill="#000" stroke="#000" stroke-width="0.22">0</text>
<line x1="452.5" y1="142.6" x2="452.5" y2="149.6" stroke="#000" stroke-width="1" />
<text xml:space="preserve" x="452.2" y="169" font-size="12" text-anchor="middle" font-weight="normal" fill="#000" stroke="#000" stroke-width="0.22">2</text>
<line x1="489.5" y1="142.6" x2="489.5" y2="149.6" stroke="#000" stroke-width="1" />
<text xml:space="preserve" x="489.9" y="169" font-size="12" text-anchor="middle" font-weight="normal" fill="#000" stroke="#000" stroke-width="0.22">4</text>
<line x1="527.5" y1="142.6" x2="527.5" y2="149.6" stroke="#000" stroke-width="1" />
<text xml:space="preserve" x="527.6" y="169" font-size="12" text-anchor="middle" font-weight="normal" fill="#000" stroke="#000" stroke-width="0.22">6</text>
<line x1="565.5" y1="142.6" x2="565.5" y2="149.6" stroke="#000" stroke-width="1" />
<text xml:space="preserve" x="565.3" y="169" font-size="12" text-anchor="middle" font-weight="normal" fill="#000" stroke="#000" stroke-width="0.22">8</text>
<line x1="602.5" y1="142.6" x2="602.5" y2="149.6" stroke="#000" stroke-width="1" />
<text xml:space="preserve" x="603" y="169" font-size="12" text-anchor="middle" font-weight="normal" fill="#000" stroke="#000" stroke-width="0.22">10</text>
<line x1="640.5" y1="142.6" x2="640.5" y2="149.6" stroke="#000" stroke-width="1" />
<text xml:space="preserve" x="640.7" y="169" font-size="12" text-anchor="middle" font-weight="normal" fill="#000" stroke="#000" stroke-width="0.22">12</text>
<line x1="678.5" y1="142.6" x2="678.5" y2="149.6" stroke="#000" stroke-width="1" />
<text xml:space="preserve" x="678.4" y="169" font-size="12" text-anchor="middle" font-weight="normal" fill="#000" stroke="#000" stroke-width="0.22">14</text>
<text xml:space="preserve" x="366.9" y="92" font-size="12" text-anchor="middle" font-weight="normal" fill="#000" stroke="#000" stroke-width="0.22" transform="rotate(-90 366.9 92)">Expression value</text>
<text xml:space="preserve" x="545.2" y="196.8" font-size="12" text-anchor="middle" font-weight="normal" fill="#000" stroke="#000" stroke-width="0.22">Count</text>
<text xml:space="preserve" x="3.2" y="253.4" font-size="21" text-anchor="start" font-weight="bold" fill="#000">C</text>
<text xml:space="preserve" x="191.5" y="249.24" font-size="14.6" text-anchor="middle" font-weight="bold" fill="#000">P−value plot</text>
<line x1="58.6" y1="313.5" x2="324.4" y2="313.5" stroke="#bdbdbd" stroke-width="1.2" />
<line x1="288.5" y1="272.6" x2="288.5" y2="377.4" stroke="#22d8ee" stroke-width="1.2" />
<path d="M65.66 273.9L71.06 279.3M65.66 279.3L71.06 273.9" stroke="#000" stroke-width="1.4" fill="none"/>
<path d="M67.82 273.9L73.22 279.3M67.82 279.3L73.22 273.9" stroke="#000" stroke-width="1.4" fill="none"/>
<path d="M69.98 273.9L75.38 279.3M69.98 279.3L75.38 273.9" stroke="#000" stroke-width="1.4" fill="none"/>
<path d="M72.14 273.9L77.54 279.3M72.14 279.3L77.54 273.9" stroke="#000" stroke-width="1.4" fill="none"/>
<path d="M74.3 273.9L79.7 279.3M74.3 279.3L79.7 273.9" stroke="#000" stroke-width="1.4" fill="none"/>
<path d="M76.45 273.9L81.85 279.3M76.45 279.3L81.85 273.9" stroke="#000" stroke-width="1.4" fill="none"/>
<path d="M78.61 273.9L84.01 279.3M78.61 279.3L84.01 273.9" stroke="#000" stroke-width="1.4" fill="none"/>
<path d="M80.77 273.9L86.17 279.3M80.77 279.3L86.17 273.9" stroke="#000" stroke-width="1.4" fill="none"/>
<path d="M82.93 273.9L88.33 279.3M82.93 279.3L88.33 273.9" stroke="#000" stroke-width="1.4" fill="none"/>
<path d="M85.09 273.9L90.49 279.3M85.09 279.3L90.49 273.9" stroke="#000" stroke-width="1.4" fill="none"/>
<path d="M87.25 273.9L92.65 279.3M87.25 279.3L92.65 273.9" stroke="#000" stroke-width="1.4" fill="none"/>
<path d="M89.41 277.3L94.81 282.7M89.41 282.7L94.81 277.3" stroke="#000" stroke-width="1.4" fill="none"/>
<path d="M91.57 279.01L96.97 284.41M91.57 284.41L96.97 279.01" stroke="#000" stroke-width="1.4" fill="none"/>
<path d="M93.73 280.84L99.13 286.24M93.73 286.24L99.13 280.84" stroke="#000" stroke-width="1.4" fill="none"/>
<path d="M95.89 282.8L101.29 288.2M95.89 288.2L101.29 282.8" stroke="#000" stroke-width="1.4" fill="none"/>
<path d="M98.04 273.9L103.44 279.3M98.04 279.3L103.44 273.9" stroke="#000" stroke-width="1.4" fill="none"/>
<path d="M100.2 274.96L105.6 280.36M100.2 280.36L105.6 274.96" stroke="#000" stroke-width="1.4" fill="none"/>
<path d="M102.36 276.02L107.76 281.42M102.36 281.42L107.76 276.02" stroke="#000" stroke-width="1.4" fill="none"/>
<path d="M104.52 277.11L109.92 282.51M104.52 282.51L109.92 277.11" stroke="#000" stroke-width="1.4" fill="none"/>
<path d="M106.68 278.2L112.08 283.6M106.68 283.6L112.08 278.2" stroke="#000" stroke-width="1.4" fill="none"/>
<path d="M108.84 279.31L114.24 284.71M108.84 284.71L114.24 279.31" stroke="#000" stroke-width="1.4" fill="none"/>
<path d="M111 280.44L116.4 285.84M111 285.84L116.4 280.44" stroke="#000" stroke-width="1.4" fill="none"/>
<path d="M113.16 281.57L118.56 286.97M113.16 286.97L118.56 281.57" stroke="#000" stroke-width="1.4" fill="none"/>
<path d="M115.32 282.72L120.72 288.12M115.32 288.12L120.72 282.72" stroke="#000" stroke-width="1.4" fill="none"/>
<path d="M117.47 283.89L122.88 289.29M117.47 289.29L122.88 283.89" stroke="#000" stroke-width="1.4" fill="none"/>
<path d="M119.63 285.07L125.03 290.47M119.63 290.47L125.03 285.07" stroke="#000" stroke-width="1.4" fill="none"/>
<path d="M121.79 286.26L127.19 291.66M121.79 291.66L127.19 286.26" stroke="#000" stroke-width="1.4" fill="none"/>
<path d="M123.95 287.47L129.35 292.87M123.95 292.87L129.35 287.47" stroke="#000" stroke-width="1.4" fill="none"/>
<path d="M126.11 288.68L131.51 294.08M126.11 294.08L131.51 288.68" stroke="#000" stroke-width="1.4" fill="none"/>
<path d="M128.27 289.92L133.67 295.32M128.27 295.32L133.67 289.92" stroke="#000" stroke-width="1.4" fill="none"/>
<path d="M130.43 291.17L135.83 296.57M130.43 296.57L135.83 291.17" stroke="#000" stroke-width="1.4" fill="none"/>
<path d="M132.59 292.43L137.99 297.83M132.59 297.83L137.99 292.43" stroke="#000" stroke-width="1.4" fill="none"/>
<path d="M134.75 293.7L140.15 299.1M134.75 299.1L140.15 293.7" stroke="#000" stroke-width="1.4" fill="none"/>
<path d="M136.91 282.1L142.31 287.5M136.91 287.5L142.31 282.1" stroke="#000" stroke-width="1.4" fill="none"/>
<path d="M139.06 283.3L144.46 288.7M139.06 288.7L144.46 283.3" stroke="#000" stroke-width="1.4" fill="none"/>
<path d="M141.22 284.57L146.62 289.97M141.22 289.97L146.62 284.57" stroke="#000" stroke-width="1.4" fill="none"/>
<path d="M143.38 285.9L148.78 291.3M143.38 291.3L148.78 285.9" stroke="#000" stroke-width="1.4" fill="none"/>
<path d="M145.54 287.3L150.94 292.7M145.54 292.7L150.94 287.3" stroke="#000" stroke-width="1.4" fill="none"/>
<path d="M147.7 278L153.1 283.4M147.7 283.4L153.1 278" stroke="#000" stroke-width="1.4" fill="none"/>
<path d="M149.86 279.15L155.26 284.55M149.86 284.55L155.26 279.15" stroke="#000" stroke-width="1.4" fill="none"/>
<path d="M152.02 280.31L157.42 285.71M152.02 285.71L157.42 280.31" stroke="#000" stroke-width="1.4" fill="none"/>
<path d="M154.18 281.49L159.58 286.89M154.18 286.89L159.58 281.49" stroke="#000" stroke-width="1.4" fill="none"/>
<path d="M156.34 282.7L161.74 288.1M156.34 288.1L161.74 282.7" stroke="#000" stroke-width="1.4" fill="none"/>
<path d="M158.5 283.92L163.9 289.32M158.5 289.32L163.9 283.92" stroke="#000" stroke-width="1.4" fill="none"/>
<path d="M160.66 285.16L166.05 290.56M160.66 290.56L166.05 285.16" stroke="#000" stroke-width="1.4" fill="none"/>
<path d="M162.81 286.42L168.21 291.82M162.81 291.82L168.21 286.42" stroke="#000" stroke-width="1.4" fill="none"/>
<path d="M164.97 287.7L170.37 293.1M164.97 293.1L170.37 287.7" stroke="#000" stroke-width="1.4" fill="none"/>
<path d="M167.13 289L172.53 294.4M167.13 294.4L172.53 289" stroke="#000" stroke-width="1.4" fill="none"/>
<path d="M169.29 290.32L174.69 295.72M169.29 295.72L174.69 290.32" stroke="#000" stroke-width="1.4" fill="none"/>
<path d="M171.45 291.66L176.85 297.06M171.45 297.06L176.85 291.66" stroke="#000" stroke-width="1.4" fill="none"/>
<path d="M173.61 293.02L179.01 298.42M173.61 298.42L179.01 293.02" stroke="#000" stroke-width="1.4" fill="none"/>
<path d="M175.77 294.4L181.17 299.8M175.77 299.8L181.17 294.4" stroke="#000" stroke-width="1.4" fill="none"/>
<path d="M177.93 284.1L183.33 289.5M177.93 289.5L183.33 284.1" stroke="#000" stroke-width="1.4" fill="none"/>
<path d="M180.09 285.56L185.49 290.96M180.09 290.96L185.49 285.56" stroke="#000" stroke-width="1.4" fill="none"/>
<path d="M182.25 287.13L187.64 292.53M182.25 292.53L187.64 287.13" stroke="#000" stroke-width="1.4" fill="none"/>
<path d="M184.4 288.8L189.8 294.2M184.4 294.2L189.8 288.8" stroke="#000" stroke-width="1.4" fill="none"/>
<path d="M186.56 279.5L191.96 284.9M186.56 284.9L191.96 279.5" stroke="#000" stroke-width="1.4" fill="none"/>
<path d="M188.72 280.5L194.12 285.9M188.72 285.9L194.12 280.5" stroke="#000" stroke-width="1.4" fill="none"/>
<path d="M190.88 281.58L196.28 286.98M190.88 286.98L196.28 281.58" stroke="#000" stroke-width="1.4" fill="none"/>
<path d="M193.04 282.73L198.44 288.13M193.04 288.13L198.44 282.73" stroke="#000" stroke-width="1.4" fill="none"/>
<path d="M195.2 283.96L200.6 289.36M195.2 289.36L200.6 283.96" stroke="#000" stroke-width="1.4" fill="none"/>
<path d="M197.36 285.25L202.76 290.65M197.36 290.65L202.76 285.25" stroke="#000" stroke-width="1.4" fill="none"/>
<path d="M199.52 286.62L204.92 292.02M199.52 292.02L204.92 286.62" stroke="#000" stroke-width="1.4" fill="none"/>
<path d="M201.68 288.06L207.08 293.46M201.68 293.46L207.08 288.06" stroke="#000" stroke-width="1.4" fill="none"/>
<path d="M203.83 289.57L209.23 294.97M203.83 294.97L209.23 289.57" stroke="#000" stroke-width="1.4" fill="none"/>
<path d="M205.99 291.16L211.39 296.56M205.99 296.56L211.39 291.16" stroke="#000" stroke-width="1.4" fill="none"/>
<path d="M208.15 292.82L213.55 298.22M208.15 298.22L213.55 292.82" stroke="#000" stroke-width="1.4" fill="none"/>
<path d="M210.31 294.55L215.71 299.95M210.31 299.95L215.71 294.55" stroke="#000" stroke-width="1.4" fill="none"/>
<path d="M212.47 296.35L217.87 301.75M212.47 301.75L217.87 296.35" stroke="#000" stroke-width="1.4" fill="none"/>
<path d="M214.63 298.23L220.03 303.63M214.63 303.63L220.03 298.23" stroke="#000" stroke-width="1.4" fill="none"/>
<path d="M216.79 300.18L222.19 305.58M216.79 305.58L222.19 300.18" stroke="#000" stroke-width="1.4" fill="none"/>
<path d="M218.95 302.2L224.35 307.6M218.95 307.6L224.35 302.2" stroke="#000" stroke-width="1.4" fill="none"/>
<path d="M221.11 303.8L226.51 309.2M221.11 309.2L226.51 303.8" stroke="#000" stroke-width="1.4" fill="none"/>
<path d="M223.27 291.6L228.67 297M223.27 297L228.67 291.6" stroke="#000" stroke-width="1.4" fill="none"/>
<path d="M225.43 283.1L230.82 288.5M225.43 288.5L230.82 283.1" stroke="#000" stroke-width="1.4" fill="none"/>
<path d="M227.58 284.32L232.98 289.72M227.58 289.72L232.98 284.32" stroke="#000" stroke-width="1.4" fill="none"/>
<path d="M229.74 285.64L235.14 291.04M229.74 291.04L235.14 285.64" stroke="#000" stroke-width="1.4" fill="none"/>
<path d="M231.9 287.05L237.3 292.45M231.9 292.45L237.3 287.05" stroke="#000" stroke-width="1.4" fill="none"/>
<path d="M234.06 288.55L239.46 293.95M234.06 293.95L239.46 288.55" stroke="#000" stroke-width="1.4" fill="none"/>
<path d="M236.22 290.15L241.62 295.55M236.22 295.55L241.62 290.15" stroke="#000" stroke-width="1.4" fill="none"/>
<path d="M238.38 291.85L243.78 297.25M238.38 297.25L243.78 291.85" stroke="#000" stroke-width="1.4" fill="none"/>
<path d="M240.54 293.64L245.94 299.04M240.54 299.04L245.94 293.64" stroke="#000" stroke-width="1.4" fill="none"/>
<path d="M242.7 295.52L248.1 300.92M242.7 300.92L248.1 295.52" stroke="#000" stroke-width="1.4" fill="none"/>
<path d="M244.86 297.5L250.26 302.9M244.86 302.9L250.26 297.5" stroke="#000" stroke-width="1.4" fill="none"/>
<path d="M247.01 299.57L252.41 304.97M247.01 304.97L252.41 299.57" stroke="#000" stroke-width="1.4" fill="none"/>
<path d="M249.17 301.74L254.57 307.14M249.17 307.14L254.57 301.74" stroke="#000" stroke-width="1.4" fill="none"/>
<path d="M251.33 304L256.73 309.4M251.33 309.4L256.73 304" stroke="#000" stroke-width="1.4" fill="none"/>
<path d="M253.49 306.35L258.89 311.75M253.49 311.75L258.89 306.35" stroke="#000" stroke-width="1.4" fill="none"/>
<path d="M255.65 308.8L261.05 314.2M255.65 314.2L261.05 308.8" stroke="#000" stroke-width="1.4" fill="none"/>
<path d="M257.81 295.3L263.21 300.7M257.81 300.7L263.21 295.3" stroke="#000" stroke-width="1.4" fill="none"/>
<path d="M259.97 298.8L265.37 304.2M259.97 304.2L265.37 298.8" stroke="#000" stroke-width="1.4" fill="none"/>
<path d="M262.13 302.3L267.53 307.7M262.13 307.7L267.53 302.3" stroke="#000" stroke-width="1.4" fill="none"/>
<path d="M264.29 305.8L269.69 311.2M264.29 311.2L269.69 305.8" stroke="#000" stroke-width="1.4" fill="none"/>
<path d="M266.45 309.8L271.85 315.2M266.45 315.2L271.85 309.8" stroke="#000" stroke-width="1.4" fill="none"/>
<path d="M268.61 313.8L274 319.2M268.61 319.2L274 313.8" stroke="#000" stroke-width="1.4" fill="none"/>
<path d="M270.76 318.3L276.16 323.7M270.76 323.7L276.16 318.3" stroke="#000" stroke-width="1.4" fill="none"/>
<path d="M272.92 323.3L278.32 328.7M272.92 328.7L278.32 323.3" stroke="#000" stroke-width="1.4" fill="none"/>
<path d="M275.08 327.3L280.48 332.7M275.08 332.7L280.48 327.3" stroke="#000" stroke-width="1.4" fill="none"/>
<path d="M277.24 333.3L282.64 338.7M277.24 338.7L282.64 333.3" stroke="#000" stroke-width="1.4" fill="none"/>
<path d="M279.4 340.7L284.8 346.1M279.4 346.1L284.8 340.7" stroke="#000" stroke-width="1.4" fill="none"/>
<path d="M281.56 349L286.96 354.4M281.56 354.4L286.96 349" stroke="#000" stroke-width="1.4" fill="none"/>
<path d="M283.72 359.4L289.12 364.8M283.72 364.8L289.12 359.4" stroke="#000" stroke-width="1.4" fill="none"/>
<path d="M285.88 371.2L291.28 376.6M285.88 376.6L291.28 371.2" stroke="#000" stroke-width="1.4" fill="none"/>
<path d="M288.04 273.9L293.44 279.3M288.04 279.3L293.44 273.9" stroke="#000" stroke-width="1.4" fill="none"/>
<path d="M290.19 273.9L295.59 279.3M290.19 279.3L295.59 273.9" stroke="#000" stroke-width="1.4" fill="none"/>
<path d="M292.35 273.9L297.75 279.3M292.35 279.3L297.75 273.9" stroke="#000" stroke-width="1.4" fill="none"/>
<path d="M294.51 273.9L299.91 279.3M294.51 279.3L299.91 273.9" stroke="#000" stroke-width="1.4" fill="none"/>
<path d="M296.67 273.9L302.07 279.3M296.67 279.3L302.07 273.9" stroke="#000" stroke-width="1.4" fill="none"/>
<path d="M298.83 273.9L304.23 279.3M298.83 279.3L304.23 273.9" stroke="#000" stroke-width="1.4" fill="none"/>
<path d="M300.99 273.9L306.39 279.3M300.99 279.3L306.39 273.9" stroke="#000" stroke-width="1.4" fill="none"/>
<path d="M303.15 273.9L308.55 279.3M303.15 279.3L308.55 273.9" stroke="#000" stroke-width="1.4" fill="none"/>
<path d="M305.31 273.9L310.71 279.3M305.31 279.3L310.71 273.9" stroke="#000" stroke-width="1.4" fill="none"/>
<path d="M307.47 273.9L312.87 279.3M307.47 279.3L312.87 273.9" stroke="#000" stroke-width="1.4" fill="none"/>
<path d="M309.63 273.9L315.03 279.3M309.63 279.3L315.03 273.9" stroke="#000" stroke-width="1.4" fill="none"/>
<path d="M311.78 273.9L317.18 279.3M311.78 279.3L317.18 273.9" stroke="#000" stroke-width="1.4" fill="none"/>
<rect x="58.5" y="272.5" width="266" height="105" fill="none" stroke="#000" stroke-width="1"/>
<line x1="51.6" y1="276.5" x2="58.6" y2="276.5" stroke="#000" stroke-width="1" />
<line x1="51.6" y1="285.5" x2="58.6" y2="285.5" stroke="#000" stroke-width="1" />
<line x1="51.6" y1="305.5" x2="58.6" y2="305.5" stroke="#000" stroke-width="1" />
<line x1="51.6" y1="313.5" x2="58.6" y2="313.5" stroke="#000" stroke-width="1" />
<line x1="51.6" y1="333.5" x2="58.6" y2="333.5" stroke="#000" stroke-width="1" />
<line x1="51.6" y1="342.5" x2="58.6" y2="342.5" stroke="#000" stroke-width="1" />
<line x1="51.6" y1="362.5" x2="58.6" y2="362.5" stroke="#000" stroke-width="1" />
<line x1="51.6" y1="370.5" x2="58.6" y2="370.5" stroke="#000" stroke-width="1" />
<text xml:space="preserve" x="41.5" y="313.8" font-size="12" text-anchor="middle" font-weight="normal" fill="#000" stroke="#000" stroke-width="0.22" transform="rotate(-90 41.5 313.8)">5e−02</text>
<text xml:space="preserve" x="41.5" y="370.9" font-size="12" text-anchor="middle" font-weight="normal" fill="#000" stroke="#000" stroke-width="0.22" transform="rotate(-90 41.5 370.9)">5e−04</text>
<text xml:space="preserve" x="13.3" y="325" font-size="12" text-anchor="middle" font-weight="normal" fill="#000" stroke="#000" stroke-width="0.22" transform="rotate(-90 13.3 325)">P−value</text>
<line x1="66.2" y1="378.5" x2="282.1" y2="378.5" stroke="#000" stroke-width="1" />
<line x1="66.5" y1="378" x2="66.5" y2="385" stroke="#000" stroke-width="1" />
<text xml:space="preserve" x="66.2" y="404.4" font-size="12" text-anchor="middle" font-weight="normal" fill="#000" stroke="#000" stroke-width="0.22">0</text>
<line x1="109.5" y1="378" x2="109.5" y2="385" stroke="#000" stroke-width="1" />
<text xml:space="preserve" x="109.38" y="404.4" font-size="12" text-anchor="middle" font-weight="normal" fill="#000" stroke="#000" stroke-width="0.22">20</text>
<line x1="152.5" y1="378" x2="152.5" y2="385" stroke="#000" stroke-width="1" />
<text xml:space="preserve" x="152.56" y="404.4" font-size="12" text-anchor="middle" font-weight="normal" fill="#000" stroke="#000" stroke-width="0.22">40</text>
<line x1="195.5" y1="378" x2="195.5" y2="385" stroke="#000" stroke-width="1" />
<text xml:space="preserve" x="195.74" y="404.4" font-size="12" text-anchor="middle" font-weight="normal" fill="#000" stroke="#000" stroke-width="0.22">60</text>
<line x1="238.5" y1="378" x2="238.5" y2="385" stroke="#000" stroke-width="1" />
<text xml:space="preserve" x="238.92" y="404.4" font-size="12" text-anchor="middle" font-weight="normal" fill="#000" stroke="#000" stroke-width="0.22">80</text>
<line x1="282.5" y1="378" x2="282.5" y2="385" stroke="#000" stroke-width="1" />
<text xml:space="preserve" x="282.1" y="404.4" font-size="12" text-anchor="middle" font-weight="normal" fill="#000" stroke="#000" stroke-width="0.22">100</text>
<text xml:space="preserve" x="191.3" y="432.2" font-size="12" text-anchor="middle" font-weight="normal" fill="#000" stroke="#000" stroke-width="0.22"># of patients</text>
<text xml:space="preserve" x="354.6" y="253.4" font-size="21" text-anchor="start" font-weight="bold" fill="#000">D</text>
<text xml:space="preserve" x="544.8" y="249.24" font-size="14.6" text-anchor="middle" font-weight="bold" fill="#000">Kaplan−Meier plot</text>
<path d="M422 276.6H424.23V298.77H446.83V311.05H466.92V321.4H488.68V330.59H497.61V338.91H624V338.91" stroke="#7a5050" stroke-width="1" fill="none" stroke-dasharray="1 2.79"/>
<path d="M422 276.6H424.23V276.6H446.83V276.6H466.92V276.6H488.68V277.12H497.61V282.36H624V282.36" stroke="#7a5050" stroke-width="1" fill="none" stroke-dasharray="1 2.79"/>
<path d="M422 276.6H426.74V279.38H438.18V281.06H462.18V282.56H471.1V285.3H479.75V286.6H519.93V287.86H520.49V289.09H667.8V289.09" stroke="#505078" stroke-width="1" fill="none" stroke-dasharray="1 2.79"/>
<path d="M422 276.6H426.74V276.6H438.18V276.6H462.18V276.6H471.1V277.2H479.75V277.76H519.93V278.36H520.49V278.99H667.8V278.99" stroke="#505078" stroke-width="1" fill="none" stroke-dasharray="1 2.79"/>
<path d="M422 276.6H424.23V284.73H446.83V292.87H466.92V301H488.68V309.13H497.61V317.27H624V317.27" stroke="#d01818" stroke-width="1.3" fill="none"/>
<path d="M422 276.6H426.74V277.55H438.18V278.5H462.18V279.44H471.1V281.34H479.75V282.29H519.93V283.23H520.49V284.18H671.15V284.18" stroke="#1020d0" stroke-width="1.3" fill="none"/>
<line x1="522.5" y1="312.77" x2="522.5" y2="321.77" stroke="#7a1010" stroke-width="1.1" />
<line x1="562.5" y1="312.77" x2="562.5" y2="321.77" stroke="#7a1010" stroke-width="1.1" />
<line x1="565.5" y1="312.77" x2="565.5" y2="321.77" stroke="#7a1010" stroke-width="1.1" />
<line x1="567.5" y1="312.77" x2="567.5" y2="321.77" stroke="#7a1010" stroke-width="1.1" />
<line x1="610.5" y1="312.77" x2="610.5" y2="321.77" stroke="#7a1010" stroke-width="1.1" />
<line x1="623.5" y1="312.77" x2="623.5" y2="321.77" stroke="#7a1010" stroke-width="1.1" />
<line x1="522.5" y1="279.88" x2="522.5" y2="288.48" stroke="#14145a" stroke-width="1.1" />
<line x1="528.5" y1="279.88" x2="528.5" y2="288.48" stroke="#14145a" stroke-width="1.1" />
<line x1="529.5" y1="279.88" x2="529.5" y2="288.48" stroke="#14145a" stroke-width="1.1" />
<line x1="531.5" y1="279.88" x2="531.5" y2="288.48" stroke="#14145a" stroke-width="1.1" />
<line x1="533.5" y1="279.88" x2="533.5" y2="288.48" stroke="#14145a" stroke-width="1.1" />
<line x1="553.5" y1="279.88" x2="553.5" y2="288.48" stroke="#14145a" stroke-width="1.1" />
<line x1="555.5" y1="279.88" x2="555.5" y2="288.48" stroke="#14145a" stroke-width="1.1" />
<line x1="557.5" y1="279.88" x2="557.5" y2="288.48" stroke="#14145a" stroke-width="1.1" />
<line x1="559.5" y1="279.88" x2="559.5" y2="288.48" stroke="#14145a" stroke-width="1.1" />
<line x1="560.5" y1="279.88" x2="560.5" y2="288.48" stroke="#14145a" stroke-width="1.1" />
<line x1="562.5" y1="279.88" x2="562.5" y2="288.48" stroke="#14145a" stroke-width="1.1" />
<line x1="564.5" y1="279.88" x2="564.5" y2="288.48" stroke="#14145a" stroke-width="1.1" />
<line x1="565.5" y1="279.88" x2="565.5" y2="288.48" stroke="#14145a" stroke-width="1.1" />
<line x1="567.5" y1="279.88" x2="567.5" y2="288.48" stroke="#14145a" stroke-width="1.1" />
<line x1="569.5" y1="279.88" x2="569.5" y2="288.48" stroke="#14145a" stroke-width="1.1" />
<line x1="570.5" y1="279.88" x2="570.5" y2="288.48" stroke="#14145a" stroke-width="1.1" />
<line x1="572.5" y1="279.88" x2="572.5" y2="288.48" stroke="#14145a" stroke-width="1.1" />
<line x1="574.5" y1="279.88" x2="574.5" y2="288.48" stroke="#14145a" stroke-width="1.1" />
<line x1="576.5" y1="279.88" x2="576.5" y2="288.48" stroke="#14145a" stroke-width="1.1" />
<line x1="577.5" y1="279.88" x2="577.5" y2="288.48" stroke="#14145a" stroke-width="1.1" />
<line x1="579.5" y1="279.88" x2="579.5" y2="288.48" stroke="#14145a" stroke-width="1.1" />
<line x1="580.5" y1="279.88" x2="580.5" y2="288.48" stroke="#14145a" stroke-width="1.1" />
<line x1="582.5" y1="279.88" x2="582.5" y2="288.48" stroke="#14145a" stroke-width="1.1" />
<line x1="584.5" y1="279.88" x2="584.5" y2="288.48" stroke="#14145a" stroke-width="1.1" />
<line x1="585.5" y1="279.88" x2="585.5" y2="288.48" stroke="#14145a" stroke-width="1.1" />
<line x1="587.5" y1="279.88" x2="587.5" y2="288.48" stroke="#14145a" stroke-width="1.1" />
<line x1="590.5" y1="279.88" x2="590.5" y2="288.48" stroke="#14145a" stroke-width="1.1" />
<line x1="591.5" y1="279.88" x2="591.5" y2="288.48" stroke="#14145a" stroke-width="1.1" />
<line x1="594.5" y1="279.88" x2="594.5" y2="288.48" stroke="#14145a" stroke-width="1.1" />
<line x1="600.5" y1="279.88" x2="600.5" y2="288.48" stroke="#14145a" stroke-width="1.1" />
<line x1="601.5" y1="279.88" x2="601.5" y2="288.48" stroke="#14145a" stroke-width="1.1" />
<line x1="606.5" y1="279.88" x2="606.5" y2="288.48" stroke="#14145a" stroke-width="1.1" />
<line x1="609.5" y1="279.88" x2="609.5" y2="288.48" stroke="#14145a" stroke-width="1.1" />
<line x1="613.5" y1="279.88" x2="613.5" y2="288.48" stroke="#14145a" stroke-width="1.1" />
<line x1="615.5" y1="279.88" x2="615.5" y2="288.48" stroke="#14145a" stroke-width="1.1" />
<line x1="617.5" y1="279.88" x2="617.5" y2="288.48" stroke="#14145a" stroke-width="1.1" />
<line x1="624.5" y1="279.88" x2="624.5" y2="288.48" stroke="#14145a" stroke-width="1.1" />
<line x1="626.5" y1="279.88" x2="626.5" y2="288.48" stroke="#14145a" stroke-width="1.1" />
<line x1="629.5" y1="279.88" x2="629.5" y2="288.48" stroke="#14145a" stroke-width="1.1" />
<line x1="630.5" y1="279.88" x2="630.5" y2="288.48" stroke="#14145a" stroke-width="1.1" />
<line x1="632.5" y1="279.88" x2="632.5" y2="288.48" stroke="#14145a" stroke-width="1.1" />
<line x1="634.5" y1="279.88" x2="634.5" y2="288.48" stroke="#14145a" stroke-width="1.1" />
<line x1="636.5" y1="279.88" x2="636.5" y2="288.48" stroke="#14145a" stroke-width="1.1" />
<line x1="638.5" y1="279.88" x2="638.5" y2="288.48" stroke="#14145a" stroke-width="1.1" />
<line x1="640.5" y1="279.88" x2="640.5" y2="288.48" stroke="#14145a" stroke-width="1.1" />
<line x1="642.5" y1="279.88" x2="642.5" y2="288.48" stroke="#14145a" stroke-width="1.1" />
<line x1="644.5" y1="279.88" x2="644.5" y2="288.48" stroke="#14145a" stroke-width="1.1" />
<line x1="646.5" y1="279.88" x2="646.5" y2="288.48" stroke="#14145a" stroke-width="1.1" />
<line x1="648.5" y1="279.88" x2="648.5" y2="288.48" stroke="#14145a" stroke-width="1.1" />
<line x1="650.5" y1="279.88" x2="650.5" y2="288.48" stroke="#14145a" stroke-width="1.1" />
<line x1="653.5" y1="279.88" x2="653.5" y2="288.48" stroke="#14145a" stroke-width="1.1" />
<line x1="654.5" y1="279.88" x2="654.5" y2="288.48" stroke="#14145a" stroke-width="1.1" />
<line x1="659.5" y1="279.88" x2="659.5" y2="288.48" stroke="#14145a" stroke-width="1.1" />
<line x1="661.5" y1="279.88" x2="661.5" y2="288.48" stroke="#14145a" stroke-width="1.1" />
<line x1="663.5" y1="279.88" x2="663.5" y2="288.48" stroke="#14145a" stroke-width="1.1" />
<line x1="665.5" y1="279.88" x2="665.5" y2="288.48" stroke="#14145a" stroke-width="1.1" />
<line x1="667.5" y1="279.88" x2="667.5" y2="288.48" stroke="#14145a" stroke-width="1.1" />
<rect x="412.5" y="272.5" width="265" height="105" fill="none" stroke="#000" stroke-width="1"/>
<line x1="405" y1="374.5" x2="412" y2="374.5" stroke="#000" stroke-width="1" />
<line x1="405" y1="354.5" x2="412" y2="354.5" stroke="#000" stroke-width="1" />
<line x1="405" y1="335.5" x2="412" y2="335.5" stroke="#000" stroke-width="1" />
<line x1="405" y1="315.5" x2="412" y2="315.5" stroke="#000" stroke-width="1" />
<line x1="405" y1="296.5" x2="412" y2="296.5" stroke="#000" stroke-width="1" />
<line x1="405" y1="276.5" x2="412" y2="276.5" stroke="#000" stroke-width="1" />
<text xml:space="preserve" x="395.6" y="374.2" font-size="12" text-anchor="middle" font-weight="normal" fill="#000" stroke="#000" stroke-width="0.22" transform="rotate(-90 395.6 374.2)">0.0</text>
<text xml:space="preserve" x="395.6" y="335.16" font-size="12" text-anchor="middle" font-weight="normal" fill="#000" stroke="#000" stroke-width="0.22" transform="rotate(-90 395.6 335.16)">0.4</text>
<text xml:space="preserve" x="395.6" y="296.12" font-size="12" text-anchor="middle" font-weight="normal" fill="#000" stroke="#000" stroke-width="0.22" transform="rotate(-90 395.6 296.12)">0.8</text>
<text xml:space="preserve" x="367.3" y="325.5" font-size="12" text-anchor="middle" font-weight="normal" fill="#000" stroke="#000" stroke-width="0.22" transform="rotate(-90 367.3 325.5)">Probability</text>
<line x1="422.5" y1="377.4" x2="422.5" y2="384.4" stroke="#000" stroke-width="1" />
<text xml:space="preserve" x="422" y="404.4" font-size="12" text-anchor="middle" font-weight="normal" fill="#000" stroke="#000" stroke-width="0.22">0</text>
<line x1="477.5" y1="377.4" x2="477.5" y2="384.4" stroke="#000" stroke-width="1" />
<text xml:space="preserve" x="477.8" y="404.4" font-size="12" text-anchor="middle" font-weight="normal" fill="#000" stroke="#000" stroke-width="0.22">20</text>
<line x1="533.5" y1="377.4" x2="533.5" y2="384.4" stroke="#000" stroke-width="1" />
<text xml:space="preserve" x="533.6" y="404.4" font-size="12" text-anchor="middle" font-weight="normal" fill="#000" stroke="#000" stroke-width="0.22">40</text>
<line x1="589.5" y1="377.4" x2="589.5" y2="384.4" stroke="#000" stroke-width="1" />
<text xml:space="preserve" x="589.4" y="404.4" font-size="12" text-anchor="middle" font-weight="normal" fill="#000" stroke="#000" stroke-width="0.22">60</text>
<line x1="645.5" y1="377.4" x2="645.5" y2="384.4" stroke="#000" stroke-width="1" />
<text xml:space="preserve" x="645.2" y="404.4" font-size="12" text-anchor="middle" font-weight="normal" fill="#000" stroke="#000" stroke-width="0.22">80</text>
<text xml:space="preserve" x="544.9" y="432.2" font-size="12" text-anchor="middle" font-weight="normal" fill="#000" stroke="#000" stroke-width="0.22">Months</text>
<text xml:space="preserve" x="458.6" y="362.6" font-size="16.3" text-anchor="start" font-weight="normal" fill="#000" stroke="#000" stroke-width="0.22">P-value=0.000385</text>
<text xml:space="preserve" x="620.6" y="362.6" font-size="16.3" text-anchor="start" font-weight="normal" fill="#000" stroke="#000" stroke-width="0.22">DMFS</text>
<line x1="589.6" y1="254.5" x2="595.6" y2="254.5" stroke="#e00000" stroke-width="1.2" />
<text xml:space="preserve" x="603.2" y="259.5" font-size="12" text-anchor="start" font-weight="normal" fill="#000" stroke="#000" stroke-width="0.22">High</text>
<text xml:space="preserve" x="635.2" y="259.5" font-size="12" text-anchor="start" font-weight="normal" fill="#000" stroke="#000" stroke-width="0.22">n= 12</text>
<line x1="589.6" y1="266.5" x2="595.6" y2="266.5" stroke="#000060" stroke-width="1.2" />
<text xml:space="preserve" x="603.2" y="270.2" font-size="12" text-anchor="start" font-weight="normal" fill="#000" stroke="#000" stroke-width="0.22">Low</text>
<text xml:space="preserve" x="635.2" y="270.2" font-size="12" text-anchor="start" font-weight="normal" fill="#000" stroke="#000" stroke-width="0.22">n= 103</text>
<text xml:space="preserve" x="3.5" y="488.8" font-size="21" text-anchor="start" font-weight="bold" fill="#000">E</text>
<text xml:space="preserve" x="191.9" y="484.6" font-size="14.6" text-anchor="middle" font-weight="bold" fill="#000">Survival time plot</text>
<line x1="68.5" y1="527" x2="68.5" y2="609.6" stroke="#dadada" stroke-width="1" />
<line x1="70.5" y1="525.4" x2="70.5" y2="609.6" stroke="#dadada" stroke-width="1" />
<line x1="72.5" y1="514.8" x2="72.5" y2="609.6" stroke="#dadada" stroke-width="1" />
<line x1="74.5" y1="520" x2="74.5" y2="609.6" stroke="#dadada" stroke-width="1" />
<line x1="76.5" y1="518.9" x2="76.5" y2="609.6" stroke="#dadada" stroke-width="1" />
<line x1="79.5" y1="552.3" x2="79.5" y2="609.6" stroke="#dadada" stroke-width="1" />
<line x1="81.5" y1="517.7" x2="81.5" y2="609.6" stroke="#dadada" stroke-width="1" />
<line x1="83.5" y1="554" x2="83.5" y2="609.6" stroke="#dadada" stroke-width="1" />
<line x1="85.5" y1="565.4" x2="85.5" y2="609.6" stroke="#dadada" stroke-width="1" />
<line x1="87.5" y1="602.9" x2="87.5" y2="609.6" stroke="#dadada" stroke-width="1" />
<line x1="89.5" y1="525.4" x2="89.5" y2="609.6" stroke="#dadada" stroke-width="1" />
<line x1="92.5" y1="537.6" x2="92.5" y2="609.6" stroke="#dadada" stroke-width="1" />
<line x1="94.5" y1="517.7" x2="94.5" y2="609.6" stroke="#dadada" stroke-width="1" />
<line x1="96.5" y1="520.5" x2="96.5" y2="609.6" stroke="#dadada" stroke-width="1" />
<line x1="98.5" y1="521.3" x2="98.5" y2="609.6" stroke="#dadada" stroke-width="1" />
<line x1="100.5" y1="589.9" x2="100.5" y2="609.6" stroke="#dadada" stroke-width="1" />
<line x1="102.5" y1="518.9" x2="102.5" y2="609.6" stroke="#dadada" stroke-width="1" />
<line x1="105.5" y1="520" x2="105.5" y2="609.6" stroke="#dadada" stroke-width="1" />
<line x1="107.5" y1="524.6" x2="107.5" y2="609.6" stroke="#dadada" stroke-width="1" />
<line x1="109.5" y1="550.7" x2="109.5" y2="609.6" stroke="#dadada" stroke-width="1" />
<line x1="111.5" y1="548.3" x2="111.5" y2="609.6" stroke="#dadada" stroke-width="1" />
<line x1="113.5" y1="525.4" x2="113.5" y2="609.6" stroke="#dadada" stroke-width="1" />
<line x1="115.5" y1="517.2" x2="115.5" y2="609.6" stroke="#dadada" stroke-width="1" />
<line x1="118.5" y1="548.7" x2="118.5" y2="609.6" stroke="#dadada" stroke-width="1" />
<line x1="120.5" y1="549.9" x2="120.5" y2="609.6" stroke="#dadada" stroke-width="1" />
<line x1="122.5" y1="551.5" x2="122.5" y2="609.6" stroke="#dadada" stroke-width="1" />
<line x1="124.5" y1="539.3" x2="124.5" y2="609.6" stroke="#dadada" stroke-width="1" />
<line x1="126.5" y1="531.9" x2="126.5" y2="609.6" stroke="#dadada" stroke-width="1" />
<line x1="128.5" y1="523" x2="128.5" y2="609.6" stroke="#dadada" stroke-width="1" />
<line x1="130.5" y1="543.4" x2="130.5" y2="609.6" stroke="#dadada" stroke-width="1" />
<line x1="133.5" y1="521.3" x2="133.5" y2="609.6" stroke="#dadada" stroke-width="1" />
<line x1="135.5" y1="514.8" x2="135.5" y2="609.6" stroke="#dadada" stroke-width="1" />
<line x1="137.5" y1="514.8" x2="137.5" y2="609.6" stroke="#dadada" stroke-width="1" />
<line x1="139.5" y1="593.1" x2="139.5" y2="609.6" stroke="#dadada" stroke-width="1" />
<line x1="141.5" y1="527.8" x2="141.5" y2="609.6" stroke="#dadada" stroke-width="1" />
<line x1="143.5" y1="515.1" x2="143.5" y2="609.6" stroke="#dadada" stroke-width="1" />
<line x1="146.5" y1="544.2" x2="146.5" y2="609.6" stroke="#dadada" stroke-width="1" />
<line x1="148.5" y1="524.3" x2="148.5" y2="609.6" stroke="#dadada" stroke-width="1" />
<line x1="150.5" y1="607.5" x2="150.5" y2="609.6" stroke="#dadada" stroke-width="1" />
<line x1="152.5" y1="549.9" x2="152.5" y2="609.6" stroke="#dadada" stroke-width="1" />
<line x1="154.5" y1="544.2" x2="154.5" y2="609.6" stroke="#dadada" stroke-width="1" />
<line x1="156.5" y1="528.7" x2="156.5" y2="609.6" stroke="#dadada" stroke-width="1" />
<line x1="159.5" y1="521.3" x2="159.5" y2="609.6" stroke="#dadada" stroke-width="1" />
<line x1="161.5" y1="519.7" x2="161.5" y2="609.6" stroke="#dadada" stroke-width="1" />
<line x1="163.5" y1="513.2" x2="163.5" y2="609.6" stroke="#dadada" stroke-width="1" />
<line x1="165.5" y1="519.7" x2="165.5" y2="609.6" stroke="#dadada" stroke-width="1" />
<line x1="167.5" y1="528.7" x2="167.5" y2="609.6" stroke="#dadada" stroke-width="1" />
<line x1="169.5" y1="570.3" x2="169.5" y2="609.6" stroke="#dadada" stroke-width="1" />
<line x1="171.5" y1="515.6" x2="171.5" y2="609.6" stroke="#dadada" stroke-width="1" />
<line x1="174.5" y1="549.1" x2="174.5" y2="609.6" stroke="#dadada" stroke-width="1" />
<line x1="176.5" y1="521" x2="176.5" y2="609.6" stroke="#dadada" stroke-width="1" />
<line x1="178.5" y1="523" x2="178.5" y2="609.6" stroke="#dadada" stroke-width="1" />
<line x1="180.5" y1="571.1" x2="180.5" y2="609.6" stroke="#dadada" stroke-width="1" />
<line x1="182.5" y1="551.5" x2="182.5" y2="609.6" stroke="#dadada" stroke-width="1" />
<line x1="184.5" y1="545" x2="184.5" y2="609.6" stroke="#dadada" stroke-width="1" />
<line x1="187.5" y1="566.7" x2="187.5" y2="609.6" stroke="#dadada" stroke-width="1" />
<line x1="189.5" y1="589.9" x2="189.5" y2="609.6" stroke="#dadada" stroke-width="1" />
<line x1="191.5" y1="518.1" x2="191.5" y2="609.6" stroke="#dadada" stroke-width="1" />
<line x1="193.5" y1="519.7" x2="193.5" y2="609.6" stroke="#dadada" stroke-width="1" />
<line x1="195.5" y1="546.6" x2="195.5" y2="609.6" stroke="#dadada" stroke-width="1" />
<line x1="197.5" y1="550.7" x2="197.5" y2="609.6" stroke="#dadada" stroke-width="1" />
<line x1="200.5" y1="511.5" x2="200.5" y2="609.6" stroke="#dadada" stroke-width="1" />
<line x1="202.5" y1="527.8" x2="202.5" y2="609.6" stroke="#dadada" stroke-width="1" />
<line x1="204.5" y1="553.1" x2="204.5" y2="609.6" stroke="#dadada" stroke-width="1" />
<line x1="206.5" y1="553.1" x2="206.5" y2="609.6" stroke="#dadada" stroke-width="1" />
<line x1="208.5" y1="526.2" x2="208.5" y2="609.6" stroke="#dadada" stroke-width="1" />
<line x1="210.5" y1="557.2" x2="210.5" y2="609.6" stroke="#dadada" stroke-width="1" />
<line x1="213.5" y1="535.2" x2="213.5" y2="609.6" stroke="#dadada" stroke-width="1" />
<line x1="215.5" y1="532.7" x2="215.5" y2="609.6" stroke="#dadada" stroke-width="1" />
<line x1="217.5" y1="530.3" x2="217.5" y2="609.6" stroke="#dadada" stroke-width="1" />
<line x1="219.5" y1="549.9" x2="219.5" y2="609.6" stroke="#dadada" stroke-width="1" />
<line x1="221.5" y1="517.7" x2="221.5" y2="609.6" stroke="#dadada" stroke-width="1" />
<line x1="223.5" y1="550.7" x2="223.5" y2="609.6" stroke="#dadada" stroke-width="1" />
<line x1="225.5" y1="589.5" x2="225.5" y2="609.6" stroke="#dadada" stroke-width="1" />
<line x1="228.5" y1="594.4" x2="228.5" y2="609.6" stroke="#dadada" stroke-width="1" />
<line x1="230.5" y1="528.7" x2="230.5" y2="609.6" stroke="#dadada" stroke-width="1" />
<line x1="232.5" y1="528.7" x2="232.5" y2="609.6" stroke="#dadada" stroke-width="1" />
<line x1="234.5" y1="544.2" x2="234.5" y2="609.6" stroke="#dadada" stroke-width="1" />
<line x1="236.5" y1="517.2" x2="236.5" y2="609.6" stroke="#dadada" stroke-width="1" />
<line x1="238.5" y1="523" x2="238.5" y2="609.6" stroke="#dadada" stroke-width="1" />
<line x1="241.5" y1="533.6" x2="241.5" y2="609.6" stroke="#dadada" stroke-width="1" />
<line x1="243.5" y1="556.9" x2="243.5" y2="609.6" stroke="#dadada" stroke-width="1" />
<line x1="245.5" y1="530.3" x2="245.5" y2="609.6" stroke="#dadada" stroke-width="1" />
<line x1="247.5" y1="570" x2="247.5" y2="609.6" stroke="#dadada" stroke-width="1" />
<line x1="249.5" y1="549.1" x2="249.5" y2="609.6" stroke="#dadada" stroke-width="1" />
<line x1="251.5" y1="530.3" x2="251.5" y2="609.6" stroke="#dadada" stroke-width="1" />
<line x1="254.5" y1="526.2" x2="254.5" y2="609.6" stroke="#dadada" stroke-width="1" />
<line x1="256.5" y1="556.4" x2="256.5" y2="609.6" stroke="#dadada" stroke-width="1" />
<line x1="258.5" y1="528.7" x2="258.5" y2="609.6" stroke="#dadada" stroke-width="1" />
<line x1="260.5" y1="586.6" x2="260.5" y2="609.6" stroke="#dadada" stroke-width="1" />
<line x1="262.5" y1="537.3" x2="262.5" y2="609.6" stroke="#dadada" stroke-width="1" />
<line x1="264.5" y1="567.8" x2="264.5" y2="609.6" stroke="#dadada" stroke-width="1" />
<line x1="266.5" y1="540.1" x2="266.5" y2="609.6" stroke="#dadada" stroke-width="1" />
<line x1="269.5" y1="547.8" x2="269.5" y2="609.6" stroke="#dadada" stroke-width="1" />
<line x1="270.5" y1="555.3" x2="270.5" y2="609.6" stroke="#dadada" stroke-width="1" />
<line x1="273.5" y1="524.3" x2="273.5" y2="609.6" stroke="#dadada" stroke-width="1" />
<line x1="275.5" y1="556.4" x2="275.5" y2="609.6" stroke="#dadada" stroke-width="1" />
<line x1="277.5" y1="554" x2="277.5" y2="609.6" stroke="#dadada" stroke-width="1" />
<line x1="280.5" y1="519.7" x2="280.5" y2="609.6" stroke="#dadada" stroke-width="1" />
<line x1="281.5" y1="550.7" x2="281.5" y2="609.6" stroke="#dadada" stroke-width="1" />
<line x1="284.5" y1="556.4" x2="284.5" y2="609.6" stroke="#dadada" stroke-width="1" />
<line x1="286.5" y1="530.8" x2="286.5" y2="609.6" stroke="#dadada" stroke-width="1" />
<line x1="288.5" y1="540.6" x2="288.5" y2="609.6" stroke="#dadada" stroke-width="1" />
<line x1="290.5" y1="553.6" x2="290.5" y2="609.6" stroke="#dadada" stroke-width="1" />
<line x1="293.5" y1="552.3" x2="293.5" y2="609.6" stroke="#dadada" stroke-width="1" />
<line x1="294.5" y1="608.1" x2="294.5" y2="609.6" stroke="#dadada" stroke-width="1" />
<line x1="297.5" y1="579.8" x2="297.5" y2="609.6" stroke="#dadada" stroke-width="1" />
<line x1="299.5" y1="570" x2="299.5" y2="609.6" stroke="#dadada" stroke-width="1" />
<line x1="301.5" y1="553.1" x2="301.5" y2="609.6" stroke="#dadada" stroke-width="1" />
<line x1="303.5" y1="530.3" x2="303.5" y2="609.6" stroke="#dadada" stroke-width="1" />
<line x1="305.5" y1="535.2" x2="305.5" y2="609.6" stroke="#dadada" stroke-width="1" />
<line x1="307.5" y1="599.7" x2="307.5" y2="609.6" stroke="#dadada" stroke-width="1" />
<line x1="310.5" y1="592.3" x2="310.5" y2="609.6" stroke="#dadada" stroke-width="1" />
<line x1="312.5" y1="554" x2="312.5" y2="609.6" stroke="#dadada" stroke-width="1" />
<line x1="314.5" y1="583" x2="314.5" y2="609.6" stroke="#dadada" stroke-width="1" />
<line x1="288.5" y1="508" x2="288.5" y2="613.4" stroke="#22d8ee" stroke-width="1.2" />
<path d="M65.56 524.2L71.16 529.8M65.56 529.8L71.16 524.2" stroke="#000" stroke-width="1.35" fill="none"/>
<path d="M67.72 522.6L73.32 528.2M67.72 528.2L73.32 522.6" stroke="#000" stroke-width="1.35" fill="none"/>
<path d="M69.88 512L75.48 517.6M69.88 517.6L75.48 512" stroke="#000" stroke-width="1.35" fill="none"/>
<path d="M72.04 517.2L77.64 522.8M72.04 522.8L77.64 517.2" stroke="#000" stroke-width="1.35" fill="none"/>
<path d="M74.2 516.1L79.8 521.7M74.2 521.7L79.8 516.1" stroke="#000" stroke-width="1.35" fill="none"/>
<path d="M76.35 549.5L81.95 555.1M76.35 555.1L81.95 549.5" stroke="#000" stroke-width="1.35" fill="none"/>
<path d="M78.51 514.9L84.11 520.5M78.51 520.5L84.11 514.9" stroke="#000" stroke-width="1.35" fill="none"/>
<path d="M80.67 551.2L86.27 556.8M80.67 556.8L86.27 551.2" stroke="#000" stroke-width="1.35" fill="none"/>
<path d="M82.83 562.6L88.43 568.2M82.83 568.2L88.43 562.6" stroke="#000" stroke-width="1.35" fill="none"/>
<path d="M84.99 600.1L90.59 605.7M84.99 605.7L90.59 600.1" stroke="#a028a0" stroke-width="1.35" fill="none"/>
<path d="M87.15 522.6L92.75 528.2M87.15 528.2L92.75 522.6" stroke="#000" stroke-width="1.35" fill="none"/>
<path d="M89.31 534.8L94.91 540.4M89.31 540.4L94.91 534.8" stroke="#000" stroke-width="1.35" fill="none"/>
<path d="M91.47 514.9L97.07 520.5M91.47 520.5L97.07 514.9" stroke="#000" stroke-width="1.35" fill="none"/>
<path d="M93.63 517.7L99.23 523.3M93.63 523.3L99.23 517.7" stroke="#000" stroke-width="1.35" fill="none"/>
<path d="M95.79 518.5L101.39 524.1M95.79 524.1L101.39 518.5" stroke="#000" stroke-width="1.35" fill="none"/>
<path d="M97.94 587.1L103.54 592.7M97.94 592.7L103.54 587.1" stroke="#a028a0" stroke-width="1.35" fill="none"/>
<path d="M100.1 516.1L105.7 521.7M100.1 521.7L105.7 516.1" stroke="#000" stroke-width="1.35" fill="none"/>
<path d="M102.26 517.2L107.86 522.8M102.26 522.8L107.86 517.2" stroke="#000" stroke-width="1.35" fill="none"/>
<path d="M104.42 521.8L110.02 527.4M104.42 527.4L110.02 521.8" stroke="#000" stroke-width="1.35" fill="none"/>
<path d="M106.58 547.9L112.18 553.5M106.58 553.5L112.18 547.9" stroke="#000" stroke-width="1.35" fill="none"/>
<path d="M108.74 545.5L114.34 551.1M108.74 551.1L114.34 545.5" stroke="#000" stroke-width="1.35" fill="none"/>
<path d="M110.9 522.6L116.5 528.2M110.9 528.2L116.5 522.6" stroke="#000" stroke-width="1.35" fill="none"/>
<path d="M113.06 514.4L118.66 520M113.06 520L118.66 514.4" stroke="#000" stroke-width="1.35" fill="none"/>
<path d="M115.22 545.9L120.82 551.5M115.22 551.5L120.82 545.9" stroke="#000" stroke-width="1.35" fill="none"/>
<path d="M117.38 547.1L122.97 552.7M117.38 552.7L122.97 547.1" stroke="#000" stroke-width="1.35" fill="none"/>
<path d="M119.53 548.7L125.13 554.3M119.53 554.3L125.13 548.7" stroke="#000" stroke-width="1.35" fill="none"/>
<path d="M121.69 536.5L127.29 542.1M121.69 542.1L127.29 536.5" stroke="#000" stroke-width="1.35" fill="none"/>
<path d="M123.85 529.1L129.45 534.7M123.85 534.7L129.45 529.1" stroke="#000" stroke-width="1.35" fill="none"/>
<path d="M126.01 520.2L131.61 525.8M126.01 525.8L131.61 520.2" stroke="#000" stroke-width="1.35" fill="none"/>
<path d="M128.17 540.6L133.77 546.2M128.17 546.2L133.77 540.6" stroke="#000" stroke-width="1.35" fill="none"/>
<path d="M130.33 518.5L135.93 524.1M130.33 524.1L135.93 518.5" stroke="#000" stroke-width="1.35" fill="none"/>
<path d="M132.49 512L138.09 517.6M132.49 517.6L138.09 512" stroke="#000" stroke-width="1.35" fill="none"/>
<path d="M134.65 512L140.25 517.6M134.65 517.6L140.25 512" stroke="#000" stroke-width="1.35" fill="none"/>
<path d="M136.81 590.3L142.41 595.9M136.81 595.9L142.41 590.3" stroke="#a028a0" stroke-width="1.35" fill="none"/>
<path d="M138.96 525L144.56 530.6M138.96 530.6L144.56 525" stroke="#000" stroke-width="1.35" fill="none"/>
<path d="M141.12 512.3L146.72 517.9M141.12 517.9L146.72 512.3" stroke="#000" stroke-width="1.35" fill="none"/>
<path d="M143.28 541.4L148.88 547M143.28 547L148.88 541.4" stroke="#000" stroke-width="1.35" fill="none"/>
<path d="M145.44 521.5L151.04 527.1M145.44 527.1L151.04 521.5" stroke="#000" stroke-width="1.35" fill="none"/>
<path d="M147.6 604.7L153.2 610.3M147.6 610.3L153.2 604.7" stroke="#a028a0" stroke-width="1.35" fill="none"/>
<path d="M149.76 547.1L155.36 552.7M149.76 552.7L155.36 547.1" stroke="#000" stroke-width="1.35" fill="none"/>
<path d="M151.92 541.4L157.52 547M151.92 547L157.52 541.4" stroke="#000" stroke-width="1.35" fill="none"/>
<path d="M154.08 525.9L159.68 531.5M154.08 531.5L159.68 525.9" stroke="#000" stroke-width="1.35" fill="none"/>
<path d="M156.24 518.5L161.84 524.1M156.24 524.1L161.84 518.5" stroke="#000" stroke-width="1.35" fill="none"/>
<path d="M158.4 516.9L164 522.5M158.4 522.5L164 516.9" stroke="#000" stroke-width="1.35" fill="none"/>
<path d="M160.55 510.4L166.16 516M160.55 516L166.16 510.4" stroke="#000" stroke-width="1.35" fill="none"/>
<path d="M162.71 516.9L168.31 522.5M162.71 522.5L168.31 516.9" stroke="#000" stroke-width="1.35" fill="none"/>
<path d="M164.87 525.9L170.47 531.5M164.87 531.5L170.47 525.9" stroke="#000" stroke-width="1.35" fill="none"/>
<path d="M167.03 567.5L172.63 573.1M167.03 573.1L172.63 567.5" stroke="#000" stroke-width="1.35" fill="none"/>
<path d="M169.19 512.8L174.79 518.4M169.19 518.4L174.79 512.8" stroke="#000" stroke-width="1.35" fill="none"/>
<path d="M171.35 546.3L176.95 551.9M171.35 551.9L176.95 546.3" stroke="#000" stroke-width="1.35" fill="none"/>
<path d="M173.51 518.2L179.11 523.8M173.51 523.8L179.11 518.2" stroke="#000" stroke-width="1.35" fill="none"/>
<path d="M175.67 520.2L181.27 525.8M175.67 525.8L181.27 520.2" stroke="#000" stroke-width="1.35" fill="none"/>
<path d="M177.83 568.3L183.43 573.9M177.83 573.9L183.43 568.3" stroke="#a028a0" stroke-width="1.35" fill="none"/>
<path d="M179.99 548.7L185.59 554.3M179.99 554.3L185.59 548.7" stroke="#000" stroke-width="1.35" fill="none"/>
<path d="M182.14 542.2L187.75 547.8M182.14 547.8L187.75 542.2" stroke="#000" stroke-width="1.35" fill="none"/>
<path d="M184.3 563.9L189.9 569.5M184.3 569.5L189.9 563.9" stroke="#000" stroke-width="1.35" fill="none"/>
<path d="M186.46 587.1L192.06 592.7M186.46 592.7L192.06 587.1" stroke="#a028a0" stroke-width="1.35" fill="none"/>
<path d="M188.62 515.3L194.22 520.9M188.62 520.9L194.22 515.3" stroke="#000" stroke-width="1.35" fill="none"/>
<path d="M190.78 516.9L196.38 522.5M190.78 522.5L196.38 516.9" stroke="#000" stroke-width="1.35" fill="none"/>
<path d="M192.94 543.8L198.54 549.4M192.94 549.4L198.54 543.8" stroke="#000" stroke-width="1.35" fill="none"/>
<path d="M195.1 547.9L200.7 553.5M195.1 553.5L200.7 547.9" stroke="#000" stroke-width="1.35" fill="none"/>
<path d="M197.26 508.7L202.86 514.3M197.26 514.3L202.86 508.7" stroke="#000" stroke-width="1.35" fill="none"/>
<path d="M199.42 525L205.02 530.6M199.42 530.6L205.02 525" stroke="#000" stroke-width="1.35" fill="none"/>
<path d="M201.58 550.3L207.18 555.9M201.58 555.9L207.18 550.3" stroke="#000" stroke-width="1.35" fill="none"/>
<path d="M203.73 550.3L209.33 555.9M203.73 555.9L209.33 550.3" stroke="#000" stroke-width="1.35" fill="none"/>
<path d="M205.89 523.4L211.49 529M205.89 529L211.49 523.4" stroke="#000" stroke-width="1.35" fill="none"/>
<path d="M208.05 554.4L213.65 560M208.05 560L213.65 554.4" stroke="#000" stroke-width="1.35" fill="none"/>
<path d="M210.21 532.4L215.81 538M210.21 538L215.81 532.4" stroke="#000" stroke-width="1.35" fill="none"/>
<path d="M212.37 529.9L217.97 535.5M212.37 535.5L217.97 529.9" stroke="#000" stroke-width="1.35" fill="none"/>
<path d="M214.53 527.5L220.13 533.1M214.53 533.1L220.13 527.5" stroke="#000" stroke-width="1.35" fill="none"/>
<path d="M216.69 547.1L222.29 552.7M216.69 552.7L222.29 547.1" stroke="#000" stroke-width="1.35" fill="none"/>
<path d="M218.85 514.9L224.45 520.5M218.85 520.5L224.45 514.9" stroke="#000" stroke-width="1.35" fill="none"/>
<path d="M221.01 547.9L226.61 553.5M221.01 553.5L226.61 547.9" stroke="#000" stroke-width="1.35" fill="none"/>
<path d="M223.17 586.7L228.77 592.3M223.17 592.3L228.77 586.7" stroke="#a028a0" stroke-width="1.35" fill="none"/>
<path d="M225.32 591.6L230.93 597.2M225.32 597.2L230.93 591.6" stroke="#a028a0" stroke-width="1.35" fill="none"/>
<path d="M227.48 525.9L233.08 531.5M227.48 531.5L233.08 525.9" stroke="#000" stroke-width="1.35" fill="none"/>
<path d="M229.64 525.9L235.24 531.5M229.64 531.5L235.24 525.9" stroke="#000" stroke-width="1.35" fill="none"/>
<path d="M231.8 541.4L237.4 547M231.8 547L237.4 541.4" stroke="#000" stroke-width="1.35" fill="none"/>
<path d="M233.96 514.4L239.56 520M233.96 520L239.56 514.4" stroke="#000" stroke-width="1.35" fill="none"/>
<path d="M236.12 520.2L241.72 525.8M236.12 525.8L241.72 520.2" stroke="#000" stroke-width="1.35" fill="none"/>
<path d="M238.28 530.8L243.88 536.4M238.28 536.4L243.88 530.8" stroke="#000" stroke-width="1.35" fill="none"/>
<path d="M240.44 554.1L246.04 559.7M240.44 559.7L246.04 554.1" stroke="#000" stroke-width="1.35" fill="none"/>
<path d="M242.6 527.5L248.2 533.1M242.6 533.1L248.2 527.5" stroke="#000" stroke-width="1.35" fill="none"/>
<path d="M244.76 567.2L250.36 572.8M244.76 572.8L250.36 567.2" stroke="#000" stroke-width="1.35" fill="none"/>
<path d="M246.91 546.3L252.51 551.9M246.91 551.9L252.51 546.3" stroke="#000" stroke-width="1.35" fill="none"/>
<path d="M249.07 527.5L254.67 533.1M249.07 533.1L254.67 527.5" stroke="#000" stroke-width="1.35" fill="none"/>
<path d="M251.8 523.4L257.4 529M251.8 529L257.4 523.4" stroke="#000" stroke-width="1.35" fill="none"/>
<path d="M253.7 553.6L259.3 559.2M253.7 559.2L259.3 553.6" stroke="#000" stroke-width="1.35" fill="none"/>
<path d="M255.4 525.9L261 531.5M255.4 531.5L261 525.9" stroke="#000" stroke-width="1.35" fill="none"/>
<path d="M257.8 583.8L263.4 589.4M257.8 589.4L263.4 583.8" stroke="#a028a0" stroke-width="1.35" fill="none"/>
<path d="M259.9 534.5L265.5 540.1M259.9 540.1L265.5 534.5" stroke="#000" stroke-width="1.35" fill="none"/>
<path d="M262.2 565L267.8 570.6M262.2 570.6L267.8 565" stroke="#000" stroke-width="1.35" fill="none"/>
<path d="M264 537.3L269.6 542.9M264 542.9L269.6 537.3" stroke="#000" stroke-width="1.35" fill="none"/>
<path d="M266.5 545L272.1 550.6M266.5 550.6L272.1 545" stroke="#000" stroke-width="1.35" fill="none"/>
<path d="M268.1 552.5L273.7 558.1M268.1 558.1L273.7 552.5" stroke="#000" stroke-width="1.35" fill="none"/>
<path d="M270.9 521.5L276.5 527.1M270.9 527.1L276.5 521.5" stroke="#000" stroke-width="1.35" fill="none"/>
<path d="M272.5 553.6L278.1 559.2M272.5 559.2L278.1 553.6" stroke="#000" stroke-width="1.35" fill="none"/>
<path d="M274.9 551.2L280.5 556.8M274.9 556.8L280.5 551.2" stroke="#000" stroke-width="1.35" fill="none"/>
<path d="M277.4 516.9L283 522.5M277.4 522.5L283 516.9" stroke="#000" stroke-width="1.35" fill="none"/>
<path d="M279 547.9L284.6 553.5M279 553.5L284.6 547.9" stroke="#000" stroke-width="1.35" fill="none"/>
<path d="M281.5 553.6L287.1 559.2M281.5 559.2L287.1 553.6" stroke="#000" stroke-width="1.35" fill="none"/>
<path d="M283.4 528L289 533.6M283.4 533.6L289 528" stroke="#000" stroke-width="1.35" fill="none"/>
<path d="M285.9 537.8L291.5 543.4M285.9 543.4L291.5 537.8" stroke="#000" stroke-width="1.35" fill="none"/>
<path d="M288 550.8L293.6 556.4M288 556.4L293.6 550.8" stroke="#000" stroke-width="1.35" fill="none"/>
<path d="M290.5 549.5L296.1 555.1M290.5 555.1L296.1 549.5" stroke="#000" stroke-width="1.35" fill="none"/>
<path d="M292.1 605.3L297.7 610.9M292.1 610.9L297.7 605.3" stroke="#a028a0" stroke-width="1.35" fill="none"/>
<path d="M294.5 577L300.1 582.6M294.5 582.6L300.1 577" stroke="#a028a0" stroke-width="1.35" fill="none"/>
<path d="M296.5 567.2L302.1 572.8M296.5 572.8L302.1 567.2" stroke="#000" stroke-width="1.35" fill="none"/>
<path d="M299.1 550.3L304.7 555.9M299.1 555.9L304.7 550.3" stroke="#000" stroke-width="1.35" fill="none"/>
<path d="M300.7 527.5L306.3 533.1M300.7 533.1L306.3 527.5" stroke="#000" stroke-width="1.35" fill="none"/>
<path d="M303 532.4L308.6 538M303 538L308.6 532.4" stroke="#000" stroke-width="1.35" fill="none"/>
<path d="M305.1 596.9L310.7 602.5M305.1 602.5L310.7 596.9" stroke="#a028a0" stroke-width="1.35" fill="none"/>
<path d="M307.6 589.5L313.2 595.1M307.6 595.1L313.2 589.5" stroke="#a028a0" stroke-width="1.35" fill="none"/>
<path d="M310 551.2L315.6 556.8M310 556.8L315.6 551.2" stroke="#000" stroke-width="1.35" fill="none"/>
<path d="M311.7 580.2L317.3 585.8M311.7 585.8L317.3 580.2" stroke="#a028a0" stroke-width="1.35" fill="none"/>
<path d="M85.49 600.6L90.09 605.2M85.49 605.2L90.09 600.6" stroke="#f000f0" stroke-width="1.0" fill="none"/>
<path d="M98.44 587.6L103.04 592.2M98.44 592.2L103.04 587.6" stroke="#f000f0" stroke-width="1.0" fill="none"/>
<path d="M137.31 590.8L141.91 595.4M137.31 595.4L141.91 590.8" stroke="#f000f0" stroke-width="1.0" fill="none"/>
<path d="M148.1 605.2L152.7 609.8M148.1 609.8L152.7 605.2" stroke="#f000f0" stroke-width="1.0" fill="none"/>
<path d="M178.33 568.8L182.93 573.4M178.33 573.4L182.93 568.8" stroke="#f000f0" stroke-width="1.0" fill="none"/>
<path d="M186.96 587.6L191.56 592.2M186.96 592.2L191.56 587.6" stroke="#f000f0" stroke-width="1.0" fill="none"/>
<path d="M223.67 587.2L228.27 591.8M223.67 591.8L228.27 587.2" stroke="#f000f0" stroke-width="1.0" fill="none"/>
<path d="M225.82 592.1L230.43 596.7M225.82 596.7L230.43 592.1" stroke="#f000f0" stroke-width="1.0" fill="none"/>
<path d="M258.3 584.3L262.9 588.9M258.3 588.9L262.9 584.3" stroke="#f000f0" stroke-width="1.0" fill="none"/>
<path d="M292.6 605.8L297.2 610.4M292.6 610.4L297.2 605.8" stroke="#f000f0" stroke-width="1.0" fill="none"/>
<path d="M295 577.5L299.6 582.1M295 582.1L299.6 577.5" stroke="#f000f0" stroke-width="1.0" fill="none"/>
<path d="M305.6 597.4L310.2 602M305.6 602L310.2 597.4" stroke="#f000f0" stroke-width="1.0" fill="none"/>
<path d="M308.1 590L312.7 594.6M308.1 594.6L312.7 590" stroke="#f000f0" stroke-width="1.0" fill="none"/>
<path d="M312.2 580.7L316.8 585.3M312.2 585.3L316.8 580.7" stroke="#f000f0" stroke-width="1.0" fill="none"/>
<rect x="58.5" y="508.5" width="266" height="105" fill="none" stroke="#000" stroke-width="1"/>
<line x1="51.6" y1="609.5" x2="58.6" y2="609.5" stroke="#000" stroke-width="1" />
<line x1="51.6" y1="587.5" x2="58.6" y2="587.5" stroke="#000" stroke-width="1" />
<line x1="51.6" y1="565.5" x2="58.6" y2="565.5" stroke="#000" stroke-width="1" />
<line x1="51.6" y1="542.5" x2="58.6" y2="542.5" stroke="#000" stroke-width="1" />
<line x1="51.6" y1="520.5" x2="58.6" y2="520.5" stroke="#000" stroke-width="1" />
<text xml:space="preserve" x="41.5" y="609.6" font-size="12" text-anchor="middle" font-weight="normal" fill="#000" stroke="#000" stroke-width="0.22" transform="rotate(-90 41.5 609.6)">0</text>
<text xml:space="preserve" x="41.5" y="587.38" font-size="12" text-anchor="middle" font-weight="normal" fill="#000" stroke="#000" stroke-width="0.22" transform="rotate(-90 41.5 587.38)">20</text>
<text xml:space="preserve" x="41.5" y="542.94" font-size="12" text-anchor="middle" font-weight="normal" fill="#000" stroke="#000" stroke-width="0.22" transform="rotate(-90 41.5 542.94)">60</text>
<text xml:space="preserve" x="13.8" y="561" font-size="12" text-anchor="middle" font-weight="normal" fill="#000" stroke="#000" stroke-width="0.22" transform="rotate(-90 13.8 561)">Months</text>
<line x1="66.2" y1="613.5" x2="282.1" y2="613.5" stroke="#000" stroke-width="1" />
<line x1="66.5" y1="613.4" x2="66.5" y2="620.4" stroke="#000" stroke-width="1" />
<text xml:space="preserve" x="66.2" y="639.8" font-size="12" text-anchor="middle" font-weight="normal" fill="#000" stroke="#000" stroke-width="0.22">0</text>
<line x1="109.5" y1="613.4" x2="109.5" y2="620.4" stroke="#000" stroke-width="1" />
<text xml:space="preserve" x="109.38" y="639.8" font-size="12" text-anchor="middle" font-weight="normal" fill="#000" stroke="#000" stroke-width="0.22">20</text>
<line x1="152.5" y1="613.4" x2="152.5" y2="620.4" stroke="#000" stroke-width="1" />
<text xml:space="preserve" x="152.56" y="639.8" font-size="12" text-anchor="middle" font-weight="normal" fill="#000" stroke="#000" stroke-width="0.22">40</text>
<line x1="195.5" y1="613.4" x2="195.5" y2="620.4" stroke="#000" stroke-width="1" />
<text xml:space="preserve" x="195.74" y="639.8" font-size="12" text-anchor="middle" font-weight="normal" fill="#000" stroke="#000" stroke-width="0.22">60</text>
<line x1="238.5" y1="613.4" x2="238.5" y2="620.4" stroke="#000" stroke-width="1" />
<text xml:space="preserve" x="238.92" y="639.8" font-size="12" text-anchor="middle" font-weight="normal" fill="#000" stroke="#000" stroke-width="0.22">80</text>
<line x1="282.5" y1="613.4" x2="282.5" y2="620.4" stroke="#000" stroke-width="1" />
<text xml:space="preserve" x="282.1" y="639.8" font-size="12" text-anchor="middle" font-weight="normal" fill="#000" stroke="#000" stroke-width="0.22">100</text>
<text xml:space="preserve" x="191.3" y="667.6" font-size="12" text-anchor="middle" font-weight="normal" fill="#000" stroke="#000" stroke-width="0.22"># of patients</text>
<path d="M223 487.7L228.4 493.1M223 493.1L228.4 487.7" stroke="#000" stroke-width="1.2" fill="none"/>
<text xml:space="preserve" x="236.8" y="494.8" font-size="12" text-anchor="start" font-weight="normal" fill="#000" stroke="#000" stroke-width="0.22">Censored</text>
<path d="M223 498.8L228.4 504.2M223 504.2L228.4 498.8" stroke="#a028a0" stroke-width="1.3" fill="none"/>
<path d="M223.5 499.3L227.9 503.7M223.5 503.7L227.9 499.3" stroke="#f000f0" stroke-width="1.0" fill="none"/>
<text xml:space="preserve" x="236.8" y="505.6" font-size="12" text-anchor="start" font-weight="normal" fill="#000" stroke="#000" stroke-width="0.22">Uncensored</text>
<text xml:space="preserve" x="355" y="488.8" font-size="21" text-anchor="start" font-weight="bold" fill="#000">F</text>
<text xml:space="preserve" x="544.8" y="484.6" font-size="14.6" text-anchor="middle" font-weight="bold" fill="#000">Attribute plot</text>
<text xml:space="preserve" x="364" y="526" font-size="8.5" text-anchor="start" font-weight="normal" fill="#000" stroke="#000" stroke-width="0.22">THERAPY:CHE</text>
<text xml:space="preserve" x="364" y="538.17" font-size="8.5" text-anchor="start" font-weight="normal" fill="#000" stroke="#000" stroke-width="0.22">THERAPY::HOR</text>
<text xml:space="preserve" x="364" y="550.34" font-size="8.5" text-anchor="start" font-weight="normal" fill="#000" stroke="#000" stroke-width="0.22">SUBTYPE::HIST</text>
<text xml:space="preserve" x="364" y="562.51" font-size="8.5" text-anchor="start" font-weight="normal" fill="#000" stroke="#000" stroke-width="0.22">SCORE::N</text>
<text xml:space="preserve" x="364" y="574.68" font-size="8.5" text-anchor="start" font-weight="normal" fill="#000" stroke="#000" stroke-width="0.22">MARKER::PR</text>
<text xml:space="preserve" x="364" y="586.85" font-size="8.5" text-anchor="start" font-weight="normal" fill="#000" stroke="#000" stroke-width="0.22">MARKER::HER</text>
<text xml:space="preserve" x="364" y="599.02" font-size="8.5" text-anchor="start" font-weight="normal" fill="#000" stroke="#000" stroke-width="0.22">MARKER::ER</text>
<text xml:space="preserve" x="364" y="611.19" font-size="8.5" text-anchor="start" font-weight="normal" fill="#000" stroke="#000" stroke-width="0.22">GRADE</text>
<rect x="424" y="512" width="15" height="13" fill="#d3d3d3"/>
<rect x="439" y="512" width="4" height="13" fill="#000"/>
<rect x="443" y="512" width="2" height="13" fill="#0000ff"/>
<rect x="445" y="512" width="2" height="13" fill="#fff"/>
<rect x="447" y="512" width="3" height="13" fill="#000"/>
<rect x="450" y="512" width="4" height="13" fill="#fff"/>
<rect x="454" y="512" width="4" height="13" fill="#000"/>
<rect x="458" y="512" width="11" height="13" fill="#d3d3d3"/>
<rect x="469" y="512" width="2" height="13" fill="#0000ff"/>
<rect x="471" y="512" width="4" height="13" fill="#000"/>
<rect x="475" y="512" width="2" height="13" fill="#fff"/>
<rect x="477" y="512" width="3" height="13" fill="#00ff00"/>
<rect x="480" y="512" width="2" height="13" fill="#fff"/>
<rect x="482" y="512" width="2" height="13" fill="#000"/>
<rect x="484" y="512" width="4" height="13" fill="#fff"/>
<rect x="488" y="512" width="2" height="13" fill="#000"/>
<rect x="490" y="512" width="7" height="13" fill="#fff"/>
<rect x="497" y="512" width="2" height="13" fill="#000"/>
<rect x="499" y="512" width="2" height="13" fill="#fff"/>
<rect x="501" y="512" width="2" height="13" fill="#000"/>
<rect x="503" y="512" width="2" height="13" fill="#fff"/>
<rect x="505" y="512" width="2" height="13" fill="#000"/>
<rect x="507" y="512" width="3" height="13" fill="#00ff00"/>
<rect x="510" y="512" width="4" height="13" fill="#fff"/>
<rect x="514" y="512" width="4" height="13" fill="#000"/>
<rect x="518" y="512" width="2" height="13" fill="#fff"/>
<rect x="520" y="512" width="4" height="13" fill="#000"/>
<rect x="524" y="512" width="3" height="13" fill="#00ff00"/>
<rect x="527" y="512" width="2" height="13" fill="#fff"/>
<rect x="529" y="512" width="2" height="13" fill="#ff0000"/>
<rect x="531" y="512" width="2" height="13" fill="#fff"/>
<rect x="533" y="512" width="2" height="13" fill="#00ff00"/>
<rect x="535" y="512" width="13" height="13" fill="#d3d3d3"/>
<rect x="548" y="512" width="2" height="13" fill="#000"/>
<rect x="550" y="512" width="7" height="13" fill="#fff"/>
<rect x="557" y="512" width="2" height="13" fill="#000"/>
<rect x="559" y="512" width="15" height="13" fill="#d3d3d3"/>
<rect x="574" y="512" width="2" height="13" fill="#00ff00"/>
<rect x="576" y="512" width="4" height="13" fill="#000"/>
<rect x="580" y="512" width="4" height="13" fill="#fff"/>
<rect x="584" y="512" width="3" height="13" fill="#00ff00"/>
<rect x="587" y="512" width="6" height="13" fill="#d3d3d3"/>
<rect x="593" y="512" width="4" height="13" fill="#000"/>
<rect x="597" y="512" width="2" height="13" fill="#fff"/>
<rect x="599" y="512" width="3" height="13" fill="#000"/>
<rect x="602" y="512" width="2" height="13" fill="#fff"/>
<rect x="604" y="512" width="2" height="13" fill="#ff0000"/>
<rect x="606" y="512" width="2" height="13" fill="#fff"/>
<rect x="608" y="512" width="2" height="13" fill="#d3d3d3"/>
<rect x="610" y="512" width="2" height="13" fill="#000"/>
<rect x="612" y="512" width="2" height="13" fill="#fff"/>
<rect x="614" y="512" width="2" height="13" fill="#000"/>
<rect x="616" y="512" width="7" height="13" fill="#d3d3d3"/>
<rect x="623" y="512" width="2" height="13" fill="#0000ff"/>
<rect x="625" y="512" width="11" height="13" fill="#d3d3d3"/>
<rect x="636" y="512" width="2" height="13" fill="#000"/>
<rect x="638" y="512" width="2" height="13" fill="#fff"/>
<rect x="640" y="512" width="2" height="13" fill="#000"/>
<rect x="642" y="512" width="7" height="13" fill="#d3d3d3"/>
<rect x="649" y="512" width="2" height="13" fill="#000"/>
<rect x="651" y="512" width="15" height="13" fill="#d3d3d3"/>
<rect x="666" y="512" width="2" height="13" fill="#ff0000"/>
<rect x="668" y="512" width="2" height="13" fill="#d3d3d3"/>
<rect x="424" y="525" width="15" height="12" fill="#0000ff"/>
<rect x="439" y="525" width="4" height="12" fill="#000"/>
<rect x="443" y="525" width="7" height="12" fill="#0000ff"/>
<rect x="450" y="525" width="2" height="12" fill="#000"/>
<rect x="452" y="525" width="13" height="12" fill="#0000ff"/>
<rect x="465" y="525" width="4" height="12" fill="#000"/>
<rect x="469" y="525" width="8" height="12" fill="#0000ff"/>
<rect x="477" y="525" width="5" height="12" fill="#000"/>
<rect x="482" y="525" width="4" height="12" fill="#0000ff"/>
<rect x="486" y="525" width="2" height="12" fill="#000"/>
<rect x="488" y="525" width="4" height="12" fill="#0000ff"/>
<rect x="492" y="525" width="5" height="12" fill="#000"/>
<rect x="497" y="525" width="6" height="12" fill="#0000ff"/>
<rect x="503" y="525" width="4" height="12" fill="#000"/>
<rect x="507" y="525" width="11" height="12" fill="#0000ff"/>
<rect x="518" y="525" width="2" height="12" fill="#000"/>
<rect x="520" y="525" width="4" height="12" fill="#0000ff"/>
<rect x="524" y="525" width="3" height="12" fill="#ff0000"/>
<rect x="527" y="525" width="2" height="12" fill="#000"/>
<rect x="529" y="525" width="4" height="12" fill="#0000ff"/>
<rect x="533" y="525" width="2" height="12" fill="#ff0000"/>
<rect x="535" y="525" width="2" height="12" fill="#000"/>
<rect x="537" y="525" width="2" height="12" fill="#0000ff"/>
<rect x="539" y="525" width="7" height="12" fill="#000"/>
<rect x="546" y="525" width="4" height="12" fill="#0000ff"/>
<rect x="550" y="525" width="2" height="12" fill="#000"/>
<rect x="552" y="525" width="9" height="12" fill="#0000ff"/>
<rect x="561" y="525" width="4" height="12" fill="#000"/>
<rect x="565" y="525" width="7" height="12" fill="#0000ff"/>
<rect x="572" y="525" width="2" height="12" fill="#ff0000"/>
<rect x="574" y="525" width="2" height="12" fill="#000"/>
<rect x="576" y="525" width="2" height="12" fill="#0000ff"/>
<rect x="578" y="525" width="2" height="12" fill="#000"/>
<rect x="580" y="525" width="4" height="12" fill="#0000ff"/>
<rect x="584" y="525" width="3" height="12" fill="#ff0000"/>
<rect x="587" y="525" width="10" height="12" fill="#0000ff"/>
<rect x="597" y="525" width="2" height="12" fill="#fff"/>
<rect x="599" y="525" width="3" height="12" fill="#0000ff"/>
<rect x="602" y="525" width="2" height="12" fill="#000"/>
<rect x="604" y="525" width="4" height="12" fill="#0000ff"/>
<rect x="608" y="525" width="2" height="12" fill="#000"/>
<rect x="610" y="525" width="4" height="12" fill="#0000ff"/>
<rect x="614" y="525" width="2" height="12" fill="#000"/>
<rect x="616" y="525" width="3" height="12" fill="#0000ff"/>
<rect x="619" y="525" width="4" height="12" fill="#000"/>
<rect x="623" y="525" width="2" height="12" fill="#0000ff"/>
<rect x="625" y="525" width="11" height="12" fill="#000"/>
<rect x="636" y="525" width="2" height="12" fill="#fff"/>
<rect x="638" y="525" width="4" height="12" fill="#0000ff"/>
<rect x="642" y="525" width="15" height="12" fill="#000"/>
<rect x="657" y="525" width="2" height="12" fill="#0000ff"/>
<rect x="659" y="525" width="11" height="12" fill="#000"/>
<rect x="424" y="537" width="6" height="12" fill="#fff"/>
<rect x="430" y="537" width="2" height="12" fill="#0000ff"/>
<rect x="432" y="537" width="11" height="12" fill="#d3d3d3"/>
<rect x="443" y="537" width="2" height="12" fill="#0000ff"/>
<rect x="445" y="537" width="9" height="12" fill="#fff"/>
<rect x="454" y="537" width="2" height="12" fill="#0000ff"/>
<rect x="456" y="537" width="4" height="12" fill="#fff"/>
<rect x="460" y="537" width="5" height="12" fill="#000"/>
<rect x="465" y="537" width="4" height="12" fill="#fff"/>
<rect x="469" y="537" width="4" height="12" fill="#000"/>
<rect x="473" y="537" width="2" height="12" fill="#fff"/>
<rect x="475" y="537" width="2" height="12" fill="#0000ff"/>
<rect x="477" y="537" width="5" height="12" fill="#fff"/>
<rect x="482" y="537" width="2" height="12" fill="#000"/>
<rect x="484" y="537" width="15" height="12" fill="#d3d3d3"/>
<rect x="499" y="537" width="4" height="12" fill="#000"/>
<rect x="503" y="537" width="2" height="12" fill="#fff"/>
<rect x="505" y="537" width="2" height="12" fill="#0000ff"/>
<rect x="507" y="537" width="7" height="12" fill="#d3d3d3"/>
<rect x="514" y="537" width="2" height="12" fill="#0000ff"/>
<rect x="516" y="537" width="2" height="12" fill="#000"/>
<rect x="518" y="537" width="9" height="12" fill="#d3d3d3"/>
<rect x="527" y="537" width="4" height="12" fill="#0000ff"/>
<rect x="531" y="537" width="2" height="12" fill="#000"/>
<rect x="533" y="537" width="4" height="12" fill="#fff"/>
<rect x="537" y="537" width="2" height="12" fill="#000"/>
<rect x="539" y="537" width="22" height="12" fill="#d3d3d3"/>
<rect x="561" y="537" width="2" height="12" fill="#0000ff"/>
<rect x="563" y="537" width="9" height="12" fill="#d3d3d3"/>
<rect x="572" y="537" width="2" height="12" fill="#0000ff"/>
<rect x="574" y="537" width="2" height="12" fill="#fff"/>
<rect x="576" y="537" width="2" height="12" fill="#0000ff"/>
<rect x="578" y="537" width="2" height="12" fill="#fff"/>
<rect x="580" y="537" width="4" height="12" fill="#000"/>
<rect x="584" y="537" width="15" height="12" fill="#d3d3d3"/>
<rect x="599" y="537" width="3" height="12" fill="#000"/>
<rect x="602" y="537" width="21" height="12" fill="#d3d3d3"/>
<rect x="623" y="537" width="2" height="12" fill="#0000ff"/>
<rect x="625" y="537" width="45" height="12" fill="#d3d3d3"/>
<rect x="424" y="549" width="2" height="12" fill="#000"/>
<rect x="426" y="549" width="2" height="12" fill="#fff"/>
<rect x="428" y="549" width="4" height="12" fill="#000"/>
<rect x="432" y="549" width="3" height="12" fill="#fff"/>
<rect x="435" y="549" width="4" height="12" fill="#000"/>
<rect x="439" y="549" width="2" height="12" fill="#fff"/>
<rect x="441" y="549" width="4" height="12" fill="#000"/>
<rect x="445" y="549" width="2" height="12" fill="#fff"/>
<rect x="447" y="549" width="3" height="12" fill="#000"/>
<rect x="450" y="549" width="4" height="12" fill="#fff"/>
<rect x="454" y="549" width="8" height="12" fill="#000"/>
<rect x="462" y="549" width="11" height="12" fill="#d3d3d3"/>
<rect x="473" y="549" width="4" height="12" fill="#000"/>
<rect x="477" y="549" width="3" height="12" fill="#fff"/>
<rect x="480" y="549" width="4" height="12" fill="#000"/>
<rect x="484" y="549" width="6" height="12" fill="#fff"/>
<rect x="490" y="549" width="2" height="12" fill="#000"/>
<rect x="492" y="549" width="3" height="12" fill="#fff"/>
<rect x="495" y="549" width="6" height="12" fill="#000"/>
<rect x="501" y="549" width="4" height="12" fill="#fff"/>
<rect x="505" y="549" width="2" height="12" fill="#000"/>
<rect x="507" y="549" width="5" height="12" fill="#fff"/>
<rect x="512" y="549" width="2" height="12" fill="#000"/>
<rect x="514" y="549" width="10" height="12" fill="#d3d3d3"/>
<rect x="524" y="549" width="3" height="12" fill="#000"/>
<rect x="527" y="549" width="2" height="12" fill="#fff"/>
<rect x="529" y="549" width="4" height="12" fill="#000"/>
<rect x="533" y="549" width="4" height="12" fill="#fff"/>
<rect x="537" y="549" width="5" height="12" fill="#000"/>
<rect x="542" y="549" width="4" height="12" fill="#fff"/>
<rect x="546" y="549" width="2" height="12" fill="#000"/>
<rect x="548" y="549" width="4" height="12" fill="#fff"/>
<rect x="552" y="549" width="2" height="12" fill="#0000ff"/>
<rect x="554" y="549" width="3" height="12" fill="#000"/>
<rect x="557" y="549" width="2" height="12" fill="#fff"/>
<rect x="559" y="549" width="4" height="12" fill="#000"/>
<rect x="563" y="549" width="2" height="12" fill="#fff"/>
<rect x="565" y="549" width="4" height="12" fill="#000"/>
<rect x="569" y="549" width="3" height="12" fill="#fff"/>
<rect x="572" y="549" width="2" height="12" fill="#000"/>
<rect x="574" y="549" width="8" height="12" fill="#d3d3d3"/>
<rect x="582" y="549" width="2" height="12" fill="#000"/>
<rect x="584" y="549" width="3" height="12" fill="#fff"/>
<rect x="587" y="549" width="6" height="12" fill="#000"/>
<rect x="593" y="549" width="2" height="12" fill="#fff"/>
<rect x="595" y="549" width="2" height="12" fill="#000"/>
<rect x="597" y="549" width="7" height="12" fill="#fff"/>
<rect x="604" y="549" width="2" height="12" fill="#000"/>
<rect x="606" y="549" width="2" height="12" fill="#fff"/>
<rect x="608" y="549" width="2" height="12" fill="#d3d3d3"/>
<rect x="610" y="549" width="2" height="12" fill="#000"/>
<rect x="612" y="549" width="4" height="12" fill="#fff"/>
<rect x="616" y="549" width="3" height="12" fill="#000"/>
<rect x="619" y="549" width="2" height="12" fill="#fff"/>
<rect x="621" y="549" width="2" height="12" fill="#000"/>
<rect x="623" y="549" width="2" height="12" fill="#0000ff"/>
<rect x="625" y="549" width="11" height="12" fill="#d3d3d3"/>
<rect x="636" y="549" width="4" height="12" fill="#000"/>
<rect x="640" y="549" width="11" height="12" fill="#d3d3d3"/>
<rect x="651" y="549" width="4" height="12" fill="#000"/>
<rect x="655" y="549" width="6" height="12" fill="#d3d3d3"/>
<rect x="661" y="549" width="9" height="12" fill="#000"/>
<rect x="424" y="561" width="2" height="12" fill="#fff"/>
<rect x="426" y="561" width="6" height="12" fill="#000"/>
<rect x="432" y="561" width="3" height="12" fill="#0000ff"/>
<rect x="435" y="561" width="2" height="12" fill="#fff"/>
<rect x="437" y="561" width="2" height="12" fill="#0000ff"/>
<rect x="439" y="561" width="4" height="12" fill="#fff"/>
<rect x="443" y="561" width="4" height="12" fill="#000"/>
<rect x="447" y="561" width="3" height="12" fill="#0000ff"/>
<rect x="450" y="561" width="12" height="12" fill="#000"/>
<rect x="462" y="561" width="7" height="12" fill="#fff"/>
<rect x="469" y="561" width="8" height="12" fill="#000"/>
<rect x="477" y="561" width="5" height="12" fill="#fff"/>
<rect x="482" y="561" width="2" height="12" fill="#0000ff"/>
<rect x="484" y="561" width="2" height="12" fill="#000"/>
<rect x="486" y="561" width="2" height="12" fill="#fff"/>
<rect x="488" y="561" width="4" height="12" fill="#0000ff"/>
<rect x="492" y="561" width="5" height="12" fill="#fff"/>
<rect x="497" y="561" width="2" height="12" fill="#000"/>
<rect x="499" y="561" width="2" height="12" fill="#fff"/>
<rect x="501" y="561" width="2" height="12" fill="#000"/>
<rect x="503" y="561" width="2" height="12" fill="#fff"/>
<rect x="505" y="561" width="5" height="12" fill="#0000ff"/>
<rect x="510" y="561" width="2" height="12" fill="#000"/>
<rect x="512" y="561" width="4" height="12" fill="#fff"/>
<rect x="516" y="561" width="2" height="12" fill="#000"/>
<rect x="518" y="561" width="2" height="12" fill="#fff"/>
<rect x="520" y="561" width="15" height="12" fill="#000"/>
<rect x="535" y="561" width="2" height="12" fill="#fff"/>
<rect x="537" y="561" width="2" height="12" fill="#000"/>
<rect x="539" y="561" width="7" height="12" fill="#fff"/>
<rect x="546" y="561" width="2" height="12" fill="#000"/>
<rect x="548" y="561" width="4" height="12" fill="#fff"/>
<rect x="552" y="561" width="7" height="12" fill="#000"/>
<rect x="559" y="561" width="2" height="12" fill="#0000ff"/>
<rect x="561" y="561" width="4" height="12" fill="#fff"/>
<rect x="565" y="561" width="7" height="12" fill="#0000ff"/>
<rect x="572" y="561" width="4" height="12" fill="#fff"/>
<rect x="576" y="561" width="2" height="12" fill="#000"/>
<rect x="578" y="561" width="2" height="12" fill="#fff"/>
<rect x="580" y="561" width="2" height="12" fill="#000"/>
<rect x="582" y="561" width="5" height="12" fill="#fff"/>
<rect x="587" y="561" width="4" height="12" fill="#000"/>
<rect x="591" y="561" width="2" height="12" fill="#0000ff"/>
<rect x="593" y="561" width="11" height="12" fill="#000"/>
<rect x="604" y="561" width="2" height="12" fill="#fff"/>
<rect x="606" y="561" width="2" height="12" fill="#000"/>
<rect x="608" y="561" width="2" height="12" fill="#d3d3d3"/>
<rect x="610" y="561" width="2" height="12" fill="#000"/>
<rect x="612" y="561" width="4" height="12" fill="#fff"/>
<rect x="616" y="561" width="3" height="12" fill="#000"/>
<rect x="619" y="561" width="4" height="12" fill="#fff"/>
<rect x="623" y="561" width="2" height="12" fill="#000"/>
<rect x="625" y="561" width="11" height="12" fill="#d3d3d3"/>
<rect x="636" y="561" width="6" height="12" fill="#000"/>
<rect x="642" y="561" width="15" height="12" fill="#d3d3d3"/>
<rect x="657" y="561" width="2" height="12" fill="#000"/>
<rect x="659" y="561" width="11" height="12" fill="#d3d3d3"/>
<rect x="424" y="573" width="8" height="12" fill="#d3d3d3"/>
<rect x="432" y="573" width="5" height="12" fill="#000"/>
<rect x="437" y="573" width="10" height="12" fill="#d3d3d3"/>
<rect x="447" y="573" width="5" height="12" fill="#0000ff"/>
<rect x="452" y="573" width="43" height="12" fill="#d3d3d3"/>
<rect x="495" y="573" width="2" height="12" fill="#000"/>
<rect x="497" y="573" width="6" height="12" fill="#fff"/>
<rect x="503" y="573" width="2" height="12" fill="#0000ff"/>
<rect x="505" y="573" width="2" height="12" fill="#fff"/>
<rect x="507" y="573" width="3" height="12" fill="#000"/>
<rect x="510" y="573" width="2" height="12" fill="#fff"/>
<rect x="512" y="573" width="2" height="12" fill="#0000ff"/>
<rect x="514" y="573" width="4" height="12" fill="#fff"/>
<rect x="518" y="573" width="2" height="12" fill="#000"/>
<rect x="520" y="573" width="7" height="12" fill="#fff"/>
<rect x="527" y="573" width="2" height="12" fill="#000"/>
<rect x="529" y="573" width="2" height="12" fill="#fff"/>
<rect x="531" y="573" width="2" height="12" fill="#0000ff"/>
<rect x="533" y="573" width="4" height="12" fill="#fff"/>
<rect x="537" y="573" width="2" height="12" fill="#000"/>
<rect x="539" y="573" width="20" height="12" fill="#d3d3d3"/>
<rect x="559" y="573" width="4" height="12" fill="#000"/>
<rect x="563" y="573" width="28" height="12" fill="#d3d3d3"/>
<rect x="591" y="573" width="2" height="12" fill="#fff"/>
<rect x="593" y="573" width="2" height="12" fill="#0000ff"/>
<rect x="595" y="573" width="2" height="12" fill="#fff"/>
<rect x="597" y="573" width="15" height="12" fill="#000"/>
<rect x="612" y="573" width="4" height="12" fill="#fff"/>
<rect x="616" y="573" width="3" height="12" fill="#000"/>
<rect x="619" y="573" width="8" height="12" fill="#d3d3d3"/>
<rect x="627" y="573" width="2" height="12" fill="#000"/>
<rect x="629" y="573" width="5" height="12" fill="#d3d3d3"/>
<rect x="634" y="573" width="2" height="12" fill="#000"/>
<rect x="636" y="573" width="2" height="12" fill="#fff"/>
<rect x="638" y="573" width="4" height="12" fill="#000"/>
<rect x="642" y="573" width="9" height="12" fill="#d3d3d3"/>
<rect x="651" y="573" width="4" height="12" fill="#000"/>
<rect x="655" y="573" width="2" height="12" fill="#d3d3d3"/>
<rect x="657" y="573" width="13" height="12" fill="#000"/>
<rect x="424" y="585" width="15" height="13" fill="#000"/>
<rect x="439" y="585" width="2" height="13" fill="#fff"/>
<rect x="441" y="585" width="9" height="13" fill="#000"/>
<rect x="450" y="585" width="2" height="13" fill="#fff"/>
<rect x="452" y="585" width="6" height="13" fill="#000"/>
<rect x="458" y="585" width="2" height="13" fill="#0000ff"/>
<rect x="460" y="585" width="5" height="13" fill="#000"/>
<rect x="465" y="585" width="4" height="13" fill="#fff"/>
<rect x="469" y="585" width="8" height="13" fill="#000"/>
<rect x="477" y="585" width="5" height="13" fill="#fff"/>
<rect x="482" y="585" width="4" height="13" fill="#000"/>
<rect x="486" y="585" width="2" height="13" fill="#fff"/>
<rect x="488" y="585" width="7" height="13" fill="#000"/>
<rect x="495" y="585" width="2" height="13" fill="#fff"/>
<rect x="497" y="585" width="6" height="13" fill="#000"/>
<rect x="503" y="585" width="2" height="13" fill="#fff"/>
<rect x="505" y="585" width="2" height="13" fill="#0000ff"/>
<rect x="507" y="585" width="11" height="13" fill="#000"/>
<rect x="518" y="585" width="2" height="13" fill="#fff"/>
<rect x="520" y="585" width="15" height="13" fill="#000"/>
<rect x="535" y="585" width="2" height="13" fill="#fff"/>
<rect x="537" y="585" width="2" height="13" fill="#000"/>
<rect x="539" y="585" width="7" height="13" fill="#fff"/>
<rect x="546" y="585" width="4" height="13" fill="#000"/>
<rect x="550" y="585" width="2" height="13" fill="#fff"/>
<rect x="552" y="585" width="7" height="13" fill="#000"/>
<rect x="559" y="585" width="2" height="13" fill="#0000ff"/>
<rect x="561" y="585" width="4" height="13" fill="#fff"/>
<rect x="565" y="585" width="9" height="13" fill="#000"/>
<rect x="574" y="585" width="2" height="13" fill="#fff"/>
<rect x="576" y="585" width="2" height="13" fill="#000"/>
<rect x="578" y="585" width="2" height="13" fill="#fff"/>
<rect x="580" y="585" width="2" height="13" fill="#000"/>
<rect x="582" y="585" width="5" height="13" fill="#d3d3d3"/>
<rect x="587" y="585" width="4" height="13" fill="#000"/>
<rect x="591" y="585" width="2" height="13" fill="#0000ff"/>
<rect x="593" y="585" width="11" height="13" fill="#000"/>
<rect x="604" y="585" width="2" height="13" fill="#fff"/>
<rect x="606" y="585" width="2" height="13" fill="#000"/>
<rect x="608" y="585" width="2" height="13" fill="#fff"/>
<rect x="610" y="585" width="2" height="13" fill="#000"/>
<rect x="612" y="585" width="4" height="13" fill="#fff"/>
<rect x="616" y="585" width="3" height="13" fill="#000"/>
<rect x="619" y="585" width="4" height="13" fill="#fff"/>
<rect x="623" y="585" width="2" height="13" fill="#000"/>
<rect x="625" y="585" width="13" height="13" fill="#d3d3d3"/>
<rect x="638" y="585" width="4" height="13" fill="#000"/>
<rect x="642" y="585" width="15" height="13" fill="#d3d3d3"/>
<rect x="657" y="585" width="2" height="13" fill="#000"/>
<rect x="659" y="585" width="11" height="13" fill="#d3d3d3"/>
<rect x="424" y="598" width="2" height="12" fill="#fff"/>
<rect x="426" y="598" width="2" height="12" fill="#000"/>
<rect x="428" y="598" width="2" height="12" fill="#fff"/>
<rect x="430" y="598" width="2" height="12" fill="#000"/>
<rect x="432" y="598" width="3" height="12" fill="#0000ff"/>
<rect x="435" y="598" width="2" height="12" fill="#000"/>
<rect x="437" y="598" width="2" height="12" fill="#0000ff"/>
<rect x="439" y="598" width="2" height="12" fill="#000"/>
<rect x="441" y="598" width="4" height="12" fill="#0000ff"/>
<rect x="445" y="598" width="2" height="12" fill="#000"/>
<rect x="447" y="598" width="3" height="12" fill="#0000ff"/>
<rect x="450" y="598" width="2" height="12" fill="#fff"/>
<rect x="452" y="598" width="2" height="12" fill="#000"/>
<rect x="454" y="598" width="2" height="12" fill="#0000ff"/>
<rect x="456" y="598" width="6" height="12" fill="#fff"/>
<rect x="462" y="598" width="7" height="12" fill="#0000ff"/>
<rect x="469" y="598" width="8" height="12" fill="#fff"/>
<rect x="477" y="598" width="3" height="12" fill="#0000ff"/>
<rect x="480" y="598" width="2" height="12" fill="#000"/>
<rect x="482" y="598" width="4" height="12" fill="#fff"/>
<rect x="486" y="598" width="2" height="12" fill="#0000ff"/>
<rect x="488" y="598" width="2" height="12" fill="#fff"/>
<rect x="490" y="598" width="2" height="12" fill="#0000ff"/>
<rect x="492" y="598" width="3" height="12" fill="#fff"/>
<rect x="495" y="598" width="4" height="12" fill="#0000ff"/>
<rect x="499" y="598" width="4" height="12" fill="#fff"/>
<rect x="503" y="598" width="11" height="12" fill="#0000ff"/>
<rect x="514" y="598" width="4" height="12" fill="#fff"/>
<rect x="518" y="598" width="2" height="12" fill="#0000ff"/>
<rect x="520" y="598" width="4" height="12" fill="#fff"/>
<rect x="524" y="598" width="3" height="12" fill="#0000ff"/>
<rect x="527" y="598" width="4" height="12" fill="#000"/>
<rect x="531" y="598" width="6" height="12" fill="#0000ff"/>
<rect x="537" y="598" width="2" height="12" fill="#000"/>
<rect x="539" y="598" width="7" height="12" fill="#0000ff"/>
<rect x="546" y="598" width="4" height="12" fill="#fff"/>
<rect x="550" y="598" width="7" height="12" fill="#0000ff"/>
<rect x="557" y="598" width="2" height="12" fill="#fff"/>
<rect x="559" y="598" width="4" height="12" fill="#0000ff"/>
<rect x="563" y="598" width="4" height="12" fill="#fff"/>
<rect x="567" y="598" width="2" height="12" fill="#0000ff"/>
<rect x="569" y="598" width="3" height="12" fill="#fff"/>
<rect x="572" y="598" width="4" height="12" fill="#0000ff"/>
<rect x="576" y="598" width="2" height="12" fill="#000"/>
<rect x="578" y="598" width="9" height="12" fill="#0000ff"/>
<rect x="587" y="598" width="6" height="12" fill="#000"/>
<rect x="593" y="598" width="2" height="12" fill="#fff"/>
<rect x="595" y="598" width="15" height="12" fill="#0000ff"/>
<rect x="610" y="598" width="2" height="12" fill="#000"/>
<rect x="612" y="598" width="11" height="12" fill="#0000ff"/>
<rect x="623" y="598" width="2" height="12" fill="#fff"/>
<rect x="625" y="598" width="26" height="12" fill="#0000ff"/>
<rect x="651" y="598" width="2" height="12" fill="#000"/>
<rect x="653" y="598" width="17" height="12" fill="#0000ff"/>
<line x1="641.5" y1="507.5" x2="641.5" y2="613.5" stroke="#22d8ee" stroke-width="1.2" />
<line x1="422" y1="614.5" x2="635.6" y2="614.5" stroke="#000" stroke-width="1" />
<line x1="422.5" y1="614" x2="422.5" y2="621" stroke="#000" stroke-width="1" />
<text xml:space="preserve" x="422" y="639.3" font-size="12" text-anchor="middle" font-weight="normal" fill="#000" stroke="#000" stroke-width="0.22">0</text>
<line x1="464.5" y1="614" x2="464.5" y2="621" stroke="#000" stroke-width="1" />
<text xml:space="preserve" x="464.72" y="639.3" font-size="12" text-anchor="middle" font-weight="normal" fill="#000" stroke="#000" stroke-width="0.22">20</text>
<line x1="507.5" y1="614" x2="507.5" y2="621" stroke="#000" stroke-width="1" />
<text xml:space="preserve" x="507.44" y="639.3" font-size="12" text-anchor="middle" font-weight="normal" fill="#000" stroke="#000" stroke-width="0.22">40</text>
<line x1="550.5" y1="614" x2="550.5" y2="621" stroke="#000" stroke-width="1" />
<text xml:space="preserve" x="550.16" y="639.3" font-size="12" text-anchor="middle" font-weight="normal" fill="#000" stroke="#000" stroke-width="0.22">60</text>
<line x1="592.5" y1="614" x2="592.5" y2="621" stroke="#000" stroke-width="1" />
<text xml:space="preserve" x="592.88" y="639.3" font-size="12" text-anchor="middle" font-weight="normal" fill="#000" stroke="#000" stroke-width="0.22">80</text>
<line x1="635.5" y1="614" x2="635.5" y2="621" stroke="#000" stroke-width="1" />
<text xml:space="preserve" x="635.6" y="639.3" font-size="12" text-anchor="middle" font-weight="normal" fill="#000" stroke="#000" stroke-width="0.22">100</text>
<text xml:space="preserve" x="544.5" y="666.7" font-size="12" text-anchor="middle" font-weight="normal" fill="#000" stroke="#000" stroke-width="0.22"># of patients</text>
</svg></body></html>
